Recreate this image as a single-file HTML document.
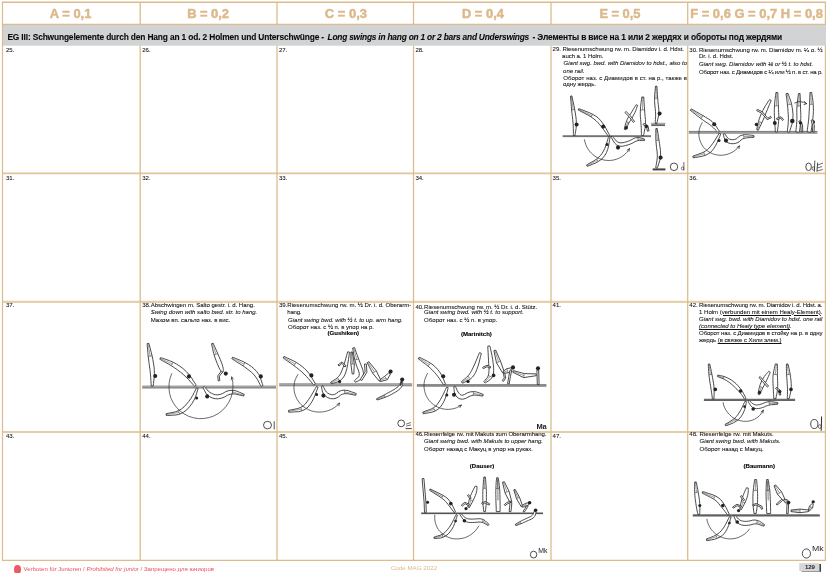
<!DOCTYPE html>
<html lang="de">
<head>
<meta charset="utf-8">
<title>Code MAG 2022 - EG III</title>
<style>
html,body{margin:0;padding:0;background:#fff;}
body{width:827px;height:573px;position:relative;overflow:hidden;font-family:"Liberation Sans",sans-serif;color:#1c1c1c;}
#grid,#figs{position:absolute;left:0;top:0;}
.t{position:absolute;white-space:nowrap;line-height:1;margin:0;padding:0;transform-origin:0 0;}
.h{font-weight:bold;color:#dcb98a;-webkit-text-stroke:0.5px #dcb98a;}
.g{font-weight:bold;color:#0c0c0c;-webkit-text-stroke:0.1px #0c0c0c;}
.gi{font-weight:bold;font-style:italic;color:#0c0c0c;-webkit-text-stroke:0.1px #0c0c0c;}
.r{color:#111;-webkit-text-stroke:0.07px #111;}
.i{font-style:italic;color:#111;-webkit-text-stroke:0.07px #111;}
.b{font-weight:bold;color:#000;-webkit-text-stroke:0.12px #000;}
.f{color:#e8505a;}
.c{color:#dcb98a;}
.p{font-weight:bold;color:#222;}
u{text-decoration-thickness:0.8px;text-underline-offset:0.5px;}
.dot{position:absolute;left:13.7px;top:565px;width:7.3px;height:8.6px;border-radius:50%;background:#ec5a66;}

</style>
</head>
<body>
<svg id="grid" width="827" height="573" viewBox="0 0 827 573">
<rect x="3" y="25" width="822" height="20.7" fill="#d1d3d4"/>
<line x1="1.9" y1="2.3" x2="826.0" y2="2.3" stroke="#dcbc8c" stroke-width="1.4"/>
<line x1="2.5" y1="24.4" x2="825.4" y2="24.4" stroke="#dcbc8c" stroke-width="1.2"/>
<line x1="2.5" y1="173.3" x2="825.4" y2="173.3" stroke="#dcbc8c" stroke-width="1.7" stroke-opacity="0.88"/>
<line x1="2.5" y1="301.9" x2="825.4" y2="301.9" stroke="#dcbc8c" stroke-width="2.1" stroke-opacity="0.71"/>
<line x1="2.5" y1="432.0" x2="825.4" y2="432.0" stroke="#dcbc8c" stroke-width="2.0" stroke-opacity="0.75"/>
<line x1="1.9" y1="560.3" x2="826.0" y2="560.3" stroke="#dcbc8c" stroke-width="1.2"/>
<line x1="2.5" y1="2.3" x2="2.5" y2="560.3" stroke="#dcbc8c" stroke-width="1.2"/>
<line x1="825.4" y1="2.3" x2="825.4" y2="560.3" stroke="#dcbc8c" stroke-width="1.2"/>
<line x1="140.2" y1="2.3" x2="140.2" y2="24.4" stroke="#dcbc8c" stroke-width="1.3"/>
<line x1="140.2" y1="45.5" x2="140.2" y2="560.3" stroke="#dcbc8c" stroke-width="1.3"/>
<line x1="277.0" y1="2.3" x2="277.0" y2="24.4" stroke="#dcbc8c" stroke-width="1.3"/>
<line x1="277.0" y1="45.5" x2="277.0" y2="560.3" stroke="#dcbc8c" stroke-width="1.3"/>
<line x1="413.5" y1="2.3" x2="413.5" y2="24.4" stroke="#dcbc8c" stroke-width="1.3"/>
<line x1="413.5" y1="45.5" x2="413.5" y2="560.3" stroke="#dcbc8c" stroke-width="1.3"/>
<line x1="551.0" y1="2.3" x2="551.0" y2="24.4" stroke="#dcbc8c" stroke-width="1.3"/>
<line x1="551.0" y1="45.5" x2="551.0" y2="560.3" stroke="#dcbc8c" stroke-width="1.3"/>
<line x1="687.7" y1="2.3" x2="687.7" y2="24.4" stroke="#dcbc8c" stroke-width="1.3"/>
<line x1="687.7" y1="45.5" x2="687.7" y2="560.3" stroke="#dcbc8c" stroke-width="1.3"/>
<rect x="824" y="25" width="2" height="20.7" fill="#d1d3d4"/>
<rect x="799.2" y="563.1" width="20.3" height="7.9" fill="#d6d7d8"/>
<rect x="819.5" y="564.0" width="1.4" height="7.5" fill="#26262a"/>
<rect x="801.6" y="571.0" width="19.3" height="0.5" fill="#333"/>
</svg>
<div class="dot"></div>
<svg id="figs" width="827" height="573" viewBox="0 0 827 573">
<g>
<line x1="562.7" y1="136.0" x2="651.0" y2="136.0" stroke="#6e6e6e" stroke-width="1.70"/>
<line x1="562.7" y1="136.7" x2="651.0" y2="136.7" stroke="#444" stroke-width="0.50"/>
<polygon points="570.5,96.1 570.6,97.1 570.7,99.1 571.0,102.2 571.3,106.2 571.6,110.0 572.0,113.5 572.4,116.7 572.7,119.7 573.0,122.6 573.2,125.4 573.3,128.3 573.4,131.1 573.4,133.3 573.4,134.7 573.4,135.4 575.0,135.6 575.1,134.8 575.3,133.4 575.6,131.3 576.1,128.4 576.3,125.4 576.3,122.4 576.2,119.3 575.8,116.3 575.3,113.0 574.7,109.5 574.0,105.8 573.1,101.8 572.5,98.9 572.1,96.9 571.9,95.9" fill="#fff" stroke="#2a2a2a" stroke-width="0.85" stroke-linejoin="round"/>
<line x1="571.2" y1="96.0" x2="573.2" y2="109.8" stroke="#2a2a2a" stroke-width="0.45"/>
<line x1="571.6" y1="110.0" x2="574.7" y2="109.5" stroke="#2a2a2a" stroke-width="0.5"/>
<circle cx="576.6" cy="124.5" r="2.03" fill="#222"/>
<polygon points="578.2,110.0 579.2,110.5 581.1,111.5 584.0,113.0 587.9,115.0 591.2,117.0 593.9,118.9 596.1,120.8 597.9,122.6 599.7,124.7 601.6,127.0 603.5,129.5 605.4,132.2 606.9,134.2 607.9,135.5 608.3,136.2 609.7,135.4 609.3,134.7 608.5,133.2 607.3,131.0 605.8,128.0 604.1,125.2 602.3,122.7 600.5,120.4 598.5,118.2 595.9,116.2 592.7,114.3 589.1,112.6 585.0,111.0 581.9,109.8 579.8,109.0 578.8,108.6" fill="#fff" stroke="#2a2a2a" stroke-width="0.85" stroke-linejoin="round"/>
<line x1="578.5" y1="109.3" x2="592.0" y2="115.7" stroke="#2a2a2a" stroke-width="0.45"/>
<line x1="591.2" y1="117.0" x2="592.7" y2="114.3" stroke="#2a2a2a" stroke-width="0.5"/>
<circle cx="603.2" cy="126.6" r="2.03" fill="#222"/>
<polygon points="608.7,136.4 608.4,137.3 607.9,139.1 607.1,141.7 606.0,145.2 604.8,148.3 603.5,151.0 602.1,153.3 600.6,155.3 598.8,157.2 596.6,159.0 594.1,160.7 591.1,162.4 588.8,163.6 587.3,164.5 586.6,164.9 587.2,166.3 588.0,166.0 589.7,165.4 592.1,164.4 595.4,163.1 598.3,161.5 600.9,159.7 603.2,157.6 605.0,155.2 606.5,152.5 607.7,149.4 608.6,146.0 609.2,142.3 609.6,139.5 610.0,137.7 610.1,136.8" fill="#fff" stroke="#2a2a2a" stroke-width="0.85" stroke-linejoin="round"/>
<line x1="586.9" y1="165.6" x2="597.5" y2="160.3" stroke="#2a2a2a" stroke-width="0.45"/>
<line x1="596.6" y1="159.0" x2="598.3" y2="161.5" stroke="#2a2a2a" stroke-width="0.5"/>
<circle cx="607.0" cy="144.5" r="1.50" fill="#222"/>
<polygon points="610.9,136.9 611.3,137.5 612.0,138.7 613.0,140.5 614.6,143.0 616.7,145.0 619.4,146.1 622.4,146.3 625.5,145.6 628.3,144.8 630.8,143.9 633.1,142.8 634.9,141.7 636.5,141.0 638.1,140.6 639.7,140.4 641.4,140.5 642.8,140.6 643.8,140.6 644.3,140.7 644.5,139.1 644.1,139.0 643.2,138.7 641.8,138.3 639.9,137.7 637.7,137.5 635.6,137.8 633.4,138.6 631.4,139.8 629.5,140.7 627.2,141.6 624.7,142.3 622.1,142.8 620.0,142.8 618.2,142.3 616.5,141.2 614.8,139.2 613.5,137.7 612.5,136.6 612.1,136.1" fill="#fff" stroke="#2a2a2a" stroke-width="0.85" stroke-linejoin="round"/>
<line x1="644.4" y1="139.9" x2="637.9" y2="139.0" stroke="#2a2a2a" stroke-width="0.45"/>
<line x1="638.1" y1="140.6" x2="637.7" y2="137.5" stroke="#2a2a2a" stroke-width="0.5"/>
<circle cx="618.0" cy="147.6" r="2.03" fill="#222"/>
<polyline points="584.4,139.7 585.0,142.2 585.8,144.6 586.8,147.0 588.1,149.2 589.6,151.2 591.3,153.1 593.1,154.8 595.1,156.3 597.3,157.6 599.6,158.7 601.9,159.5 604.3,160.1 606.8,160.4 609.3,160.5 611.7,160.3 614.1,159.9 616.5,159.2 618.8,158.3 620.9,157.2 623.0,155.8 624.9,154.3 626.6,152.6 628.1,150.7 629.4,148.7" fill="none" stroke="#2a2a2a" stroke-width="0.70" stroke-linecap="round" stroke-linejoin="round"/>
<polyline points="629.4,148.7 627.2,150.1" fill="none" stroke="#2a2a2a" stroke-width="0.70" stroke-linecap="round" stroke-linejoin="round"/>
<polyline points="629.4,148.7 629.1,151.3" fill="none" stroke="#2a2a2a" stroke-width="0.70" stroke-linecap="round" stroke-linejoin="round"/>
<polygon points="625.7,129.7 625.9,129.2 626.4,128.2 627.2,126.7 628.1,124.7 629.1,122.7 630.2,120.8 631.4,118.9 632.6,116.9 633.7,114.8 634.8,112.7 635.7,110.6 636.5,108.5 637.0,106.9 637.4,105.9 637.6,105.3 636.2,104.7 635.9,105.1 635.3,106.1 634.4,107.5 633.2,109.4 632.1,111.3 630.9,113.2 629.7,115.1 628.4,117.1 627.3,119.3 626.4,121.5 625.6,123.7 625.1,125.9 624.7,127.6 624.4,128.7 624.3,129.3" fill="#fff" stroke="#2a2a2a" stroke-width="0.85" stroke-linejoin="round"/>
<line x1="625.0" y1="129.5" x2="627.8" y2="122.1" stroke="#2a2a2a" stroke-width="0.45"/>
<line x1="629.1" y1="122.7" x2="626.4" y2="121.5" stroke="#2a2a2a" stroke-width="0.5"/>
<polygon points="624.9,112.6 628.9,116.5 633.4,122.5 634.6,121.5 630.1,115.5 626.1,111.4" fill="#fff" stroke="#2a2a2a" stroke-width="0.85" stroke-linejoin="round"/>
<circle cx="626.2" cy="127.8" r="1.80" fill="#222"/>
<polygon points="641.8,97.0 641.7,97.9 641.5,99.8 641.1,102.6 640.6,106.3 640.4,110.0 640.3,113.4 640.4,116.7 640.7,119.7 640.9,122.5 641.1,125.4 641.3,128.2 641.3,131.1 641.4,133.2 641.4,134.7 641.4,135.4 643.6,135.6 643.7,134.9 644.0,133.5 644.4,131.3 645.0,128.4 645.3,125.4 645.5,122.4 645.4,119.3 645.1,116.3 644.8,113.2 644.6,109.9 644.3,106.4 644.1,102.7 643.9,99.9 643.8,98.0 643.8,97.0" fill="#fff" stroke="#2a2a2a" stroke-width="0.85" stroke-linejoin="round"/>
<line x1="642.8" y1="97.0" x2="642.5" y2="109.9" stroke="#2a2a2a" stroke-width="0.45"/>
<line x1="640.4" y1="110.0" x2="644.6" y2="109.9" stroke="#2a2a2a" stroke-width="0.5"/>
<polygon points="643.1,124.7 646.5,126.4 647.4,131.2 649.0,130.8 647.9,125.6 643.9,123.3" fill="#fff" stroke="#2a2a2a" stroke-width="0.85" stroke-linejoin="round"/>
<circle cx="646.4" cy="126.4" r="1.65" fill="#222"/>
<polygon points="655.5,86.2 655.4,87.1 655.3,88.8 655.0,91.4 654.7,94.8 654.6,98.3 654.6,101.7 654.8,105.0 655.2,108.3 655.5,111.3 655.6,114.1 655.6,116.8 655.4,119.4 655.3,121.4 655.3,122.7 655.2,123.4 656.8,123.6 656.9,123.0 657.2,121.7 657.7,119.7 658.3,117.1 658.7,114.2 658.8,111.2 658.7,108.0 658.3,104.7 657.9,101.5 657.7,98.2 657.4,94.8 657.2,91.4 657.1,88.8 657.0,87.1 656.9,86.2" fill="#fff" stroke="#2a2a2a" stroke-width="0.85" stroke-linejoin="round"/>
<line x1="656.2" y1="86.2" x2="656.1" y2="98.2" stroke="#2a2a2a" stroke-width="0.45"/>
<line x1="654.6" y1="98.3" x2="657.7" y2="98.2" stroke="#2a2a2a" stroke-width="0.5"/>
<circle cx="659.6" cy="113.6" r="2.03" fill="#222"/>
<line x1="651.3" y1="125.0" x2="665.0" y2="125.0" stroke="#6a6a6a" stroke-width="1.60"/>
<line x1="651.3" y1="125.6" x2="665.0" y2="125.6" stroke="#444" stroke-width="0.60"/>
<polyline points="651.3,123.3 665.0,123.3" fill="none" stroke="#2a2a2a" stroke-width="0.50" stroke-linecap="round" stroke-linejoin="round"/>
<polygon points="655.8,128.6 655.8,129.4 655.8,131.1 655.8,133.6 655.8,137.0 655.9,140.5 656.2,144.0 656.5,147.5 657.0,150.9 657.3,154.1 657.3,157.2 657.0,160.2 656.5,163.2 656.1,165.5 655.9,167.0 655.7,167.8 657.3,168.2 657.5,167.5 658.0,166.0 658.7,163.8 659.7,160.8 660.4,157.5 660.6,154.1 660.5,150.6 660.0,147.0 659.5,143.6 659.0,140.2 658.5,136.8 658.0,133.5 657.6,131.0 657.3,129.3 657.2,128.4" fill="#fff" stroke="#2a2a2a" stroke-width="0.85" stroke-linejoin="round"/>
<line x1="656.5" y1="128.5" x2="657.4" y2="140.3" stroke="#2a2a2a" stroke-width="0.45"/>
<line x1="655.9" y1="140.5" x2="659.0" y2="140.2" stroke="#2a2a2a" stroke-width="0.5"/>
<circle cx="660.6" cy="157.6" r="2.03" fill="#222"/>
<line x1="652.7" y1="169.3" x2="665.4" y2="169.3" stroke="#444" stroke-width="1.80"/>
<line x1="652.7" y1="170.0" x2="665.4" y2="170.0" stroke="#444" stroke-width="0.60"/>
<ellipse cx="674.0" cy="166.8" rx="3.7" ry="3.8" fill="none" stroke="#222" stroke-width="0.80"/>
<polyline points="683.9,162.5 683.9,170.2" fill="none" stroke="#2a2a2a" stroke-width="0.70" stroke-linecap="round" stroke-linejoin="round"/>
<ellipse cx="682.6" cy="168.4" rx="1.2" ry="1.5" fill="none" stroke="#222" stroke-width="0.60"/>
</g>
<g>
<line x1="688.8" y1="132.3" x2="817.4" y2="132.3" stroke="#b0b0b0" stroke-width="1.90"/>
<line x1="688.8" y1="131.4" x2="817.4" y2="131.4" stroke="#4a4a4a" stroke-width="0.60"/>
<line x1="688.8" y1="133.2" x2="817.4" y2="133.2" stroke="#4a4a4a" stroke-width="0.60"/>
<polygon points="690.3,110.3 691.1,110.9 692.7,112.2 695.0,114.0 698.2,116.5 701.0,118.6 703.6,120.5 705.9,122.1 707.9,123.3 709.7,124.6 711.5,126.0 713.3,127.7 715.1,129.5 716.5,130.9 717.4,131.9 717.9,132.4 719.3,131.2 719.0,130.7 718.2,129.5 717.2,127.9 715.7,125.6 714.0,123.5 712.2,121.6 710.1,120.0 708.1,118.7 705.7,117.3 703.0,115.6 699.9,113.9 696.5,111.9 693.9,110.4 692.1,109.4 691.3,108.9" fill="#fff" stroke="#2a2a2a" stroke-width="0.85" stroke-linejoin="round"/>
<line x1="690.8" y1="109.6" x2="702.0" y2="117.1" stroke="#2a2a2a" stroke-width="0.45"/>
<line x1="701.0" y1="118.6" x2="703.0" y2="115.6" stroke="#2a2a2a" stroke-width="0.5"/>
<circle cx="714.2" cy="124.2" r="2.03" fill="#222"/>
<polygon points="719.2,133.2 718.8,134.0 717.8,135.6 716.3,138.0 714.4,141.1 712.5,143.8 710.8,146.1 709.2,148.0 707.7,149.4 705.9,150.8 703.7,152.1 701.0,153.3 697.7,154.4 695.3,155.3 693.6,155.8 692.8,156.1 693.2,157.9 694.1,157.7 695.8,157.4 698.4,157.0 701.9,156.3 705.1,155.4 707.9,154.1 710.3,152.5 712.2,150.7 713.9,148.4 715.6,145.7 717.1,142.6 718.6,139.1 719.7,136.6 720.4,134.8 720.8,134.0" fill="#fff" stroke="#2a2a2a" stroke-width="0.85" stroke-linejoin="round"/>
<line x1="693.0" y1="157.0" x2="704.4" y2="153.7" stroke="#2a2a2a" stroke-width="0.45"/>
<line x1="703.7" y1="152.1" x2="705.1" y2="155.4" stroke="#2a2a2a" stroke-width="0.5"/>
<circle cx="719.0" cy="140.5" r="1.50" fill="#222"/>
<polygon points="723.2,134.4 723.4,134.9 723.7,135.9 724.1,137.4 724.9,139.5 726.3,141.5 728.2,142.9 730.7,143.6 733.4,143.7 735.8,143.3 738.0,142.5 739.9,141.2 741.2,139.9 742.4,139.0 744.1,138.4 746.4,137.9 749.4,137.6 751.7,137.5 753.2,137.4 754.0,137.3 754.0,135.5 753.3,135.4 751.7,135.2 749.4,135.0 746.3,134.7 743.4,134.8 740.8,135.5 738.6,136.7 737.3,138.2 736.2,138.9 734.8,139.4 733.1,139.7 731.2,139.6 729.8,139.3 728.6,138.7 727.5,137.8 726.5,136.3 725.6,135.0 725.1,134.1 724.8,133.6" fill="#fff" stroke="#2a2a2a" stroke-width="0.85" stroke-linejoin="round"/>
<line x1="754.0" y1="136.4" x2="743.8" y2="136.6" stroke="#2a2a2a" stroke-width="0.45"/>
<line x1="744.1" y1="138.4" x2="743.4" y2="134.8" stroke="#2a2a2a" stroke-width="0.5"/>
<circle cx="726.0" cy="140.6" r="2.03" fill="#222"/>
<polyline points="702.3,122.7 701.0,124.9 700.0,127.2 699.3,129.7 698.9,132.3 698.9,134.9 699.2,137.5 699.8,140.1 700.8,142.6 702.0,145.0 703.6,147.3 705.5,149.3 707.7,151.1 710.1,152.6 712.7,153.8 715.4,154.6 718.2,155.1 721.2,155.3 724.1,155.0 727.0,154.4 729.8,153.4 732.5,152.1 735.0,150.4 737.3,148.4 739.4,146.0" fill="none" stroke="#2a2a2a" stroke-width="0.70" stroke-linecap="round" stroke-linejoin="round"/>
<polyline points="739.4,146.0 737.1,147.3" fill="none" stroke="#2a2a2a" stroke-width="0.70" stroke-linecap="round" stroke-linejoin="round"/>
<polyline points="739.4,146.0 739.0,148.6" fill="none" stroke="#2a2a2a" stroke-width="0.70" stroke-linecap="round" stroke-linejoin="round"/>
<polygon points="758.3,130.3 758.6,129.7 759.1,128.6 759.8,127.0 760.9,124.9 761.9,122.6 763.0,120.2 764.1,117.6 765.2,114.9 766.3,112.2 767.4,109.6 768.4,107.0 769.5,104.4 770.4,102.4 770.9,101.1 771.2,100.4 769.6,99.6 769.2,100.2 768.4,101.3 767.2,103.1 765.6,105.5 764.1,108.0 762.7,110.6 761.5,113.3 760.3,116.1 759.3,118.8 758.5,121.4 757.9,123.9 757.4,126.2 757.1,128.0 756.8,129.1 756.7,129.7" fill="#fff" stroke="#2a2a2a" stroke-width="0.85" stroke-linejoin="round"/>
<line x1="757.5" y1="130.0" x2="760.2" y2="122.0" stroke="#2a2a2a" stroke-width="0.45"/>
<line x1="761.9" y1="122.6" x2="758.5" y2="121.4" stroke="#2a2a2a" stroke-width="0.5"/>
<polygon points="756.7,110.7 761.5,113.1 767.2,119.7 771.4,117.7 770.6,116.3 767.8,118.3 762.5,111.9 757.3,109.3" fill="#fff" stroke="#2a2a2a" stroke-width="0.85" stroke-linejoin="round"/>
<circle cx="756.5" cy="124.5" r="1.80" fill="#222"/>
<polygon points="775.9,92.5 775.8,93.4 775.6,95.4 775.2,98.3 774.8,102.1 774.5,105.8 774.3,109.3 774.3,112.6 774.4,115.6 774.6,118.5 774.7,121.5 774.9,124.4 775.1,127.4 775.2,129.7 775.3,131.2 775.3,132.0 777.3,132.0 777.4,131.3 777.6,129.8 777.9,127.6 778.3,124.6 778.6,121.5 778.8,118.5 778.8,115.4 778.7,112.4 778.5,109.3 778.4,105.9 778.2,102.2 778.0,98.4 777.9,95.4 777.8,93.5 777.7,92.5" fill="#fff" stroke="#2a2a2a" stroke-width="0.85" stroke-linejoin="round"/>
<line x1="776.8" y1="92.5" x2="776.4" y2="105.8" stroke="#2a2a2a" stroke-width="0.45"/>
<line x1="774.5" y1="105.8" x2="778.4" y2="105.9" stroke="#2a2a2a" stroke-width="0.5"/>
<polygon points="777.1,119.7 780.9,118.2 782.4,120.5 783.6,119.5 781.1,116.8 776.5,118.3" fill="#fff" stroke="#2a2a2a" stroke-width="0.85" stroke-linejoin="round"/>
<circle cx="774.8" cy="123.0" r="1.95" fill="#222"/>
<polygon points="786.0,93.7 786.1,94.5 786.4,96.1 786.7,98.5 787.1,101.7 787.4,104.9 787.8,108.1 788.0,111.5 788.3,114.8 788.4,118.1 788.3,121.2 788.2,124.2 787.8,127.2 787.5,129.5 787.4,131.0 787.3,131.8 789.3,132.2 789.6,131.5 790.1,130.0 790.8,127.8 791.8,124.8 792.5,121.6 792.9,118.2 793.0,114.7 792.7,111.0 792.2,107.6 791.6,104.2 790.7,100.9 789.6,97.8 788.8,95.6 788.2,94.0 788.0,93.3" fill="#fff" stroke="#2a2a2a" stroke-width="0.85" stroke-linejoin="round"/>
<line x1="787.0" y1="93.5" x2="789.5" y2="104.5" stroke="#2a2a2a" stroke-width="0.45"/>
<line x1="787.4" y1="104.9" x2="791.6" y2="104.2" stroke="#2a2a2a" stroke-width="0.5"/>
<circle cx="792.3" cy="121.0" r="2.25" fill="#222"/>
<polygon points="798.5,93.5 798.4,94.4 798.1,96.2 797.8,98.9 797.3,102.5 797.0,106.0 796.8,109.3 796.8,112.5 796.9,115.5 796.9,118.5 796.8,121.4 796.6,124.3 796.3,127.3 796.0,129.5 795.9,131.0 795.8,131.8 799.4,132.2 799.5,131.5 799.7,130.0 800.0,127.7 800.4,124.7 800.6,121.6 800.8,118.5 800.8,115.5 800.7,112.5 800.6,109.3 800.5,106.1 800.4,102.6 800.3,99.0 800.2,96.3 800.1,94.4 800.1,93.5" fill="#fff" stroke="#2a2a2a" stroke-width="0.85" stroke-linejoin="round"/>
<line x1="799.3" y1="93.5" x2="798.8" y2="106.0" stroke="#2a2a2a" stroke-width="0.45"/>
<line x1="797.0" y1="106.0" x2="800.5" y2="106.1" stroke="#2a2a2a" stroke-width="0.5"/>
<polygon points="798.8,121.4 800.9,125.2 801.2,132.0 802.8,132.0 802.5,124.8 800.2,120.6" fill="#fff" stroke="#2a2a2a" stroke-width="0.85" stroke-linejoin="round"/>
<circle cx="800.6" cy="123.0" r="1.65" fill="#222"/>
<circle cx="813.4" cy="122.0" r="1.65" fill="#222"/>
<polyline points="794.8,103.0 799.0,101.6 803.5,102.2 806.5,103.6" fill="none" stroke="#2a2a2a" stroke-width="0.80" stroke-linecap="round" stroke-linejoin="round"/>
<polyline points="806.5,103.6 804.3,101.6" fill="none" stroke="#2a2a2a" stroke-width="0.80" stroke-linecap="round" stroke-linejoin="round"/>
<polyline points="806.5,103.6 804.0,104.6" fill="none" stroke="#2a2a2a" stroke-width="0.80" stroke-linecap="round" stroke-linejoin="round"/>
<polygon points="809.9,92.6 809.9,93.4 809.9,95.1 809.8,97.6 809.7,101.0 809.6,104.4 809.4,107.8 809.2,111.2 809.0,114.6 808.8,117.9 808.5,121.1 808.1,124.2 807.7,127.2 807.4,129.5 807.2,131.0 807.1,131.7 810.9,132.3 811.0,131.5 811.3,130.0 811.6,127.8 812.1,124.8 812.5,121.6 812.9,118.3 813.2,114.9 813.4,111.3 813.4,107.8 813.2,104.3 812.9,100.9 812.4,97.5 812.0,95.0 811.8,93.3 811.7,92.4" fill="#fff" stroke="#2a2a2a" stroke-width="0.85" stroke-linejoin="round"/>
<line x1="810.8" y1="92.5" x2="811.4" y2="104.3" stroke="#2a2a2a" stroke-width="0.45"/>
<line x1="809.6" y1="104.4" x2="813.2" y2="104.3" stroke="#2a2a2a" stroke-width="0.5"/>
<polygon points="811.2,120.2 812.8,126.1 812.4,131.9 814.0,132.1 814.4,125.9 812.8,119.8" fill="#fff" stroke="#2a2a2a" stroke-width="0.85" stroke-linejoin="round"/>
<ellipse cx="808.6" cy="166.8" rx="2.8" ry="3.8" fill="none" stroke="#222" stroke-width="0.80"/>
<polyline points="814.8,161.0 814.4,171.4" fill="none" stroke="#2a2a2a" stroke-width="0.80" stroke-linecap="round" stroke-linejoin="round"/>
<ellipse cx="813.3" cy="168.4" rx="1.2" ry="1.8" fill="none" stroke="#222" stroke-width="0.60"/>
<polyline points="817.6,163.0 817.0,171.0" fill="none" stroke="#2a2a2a" stroke-width="0.80" stroke-linecap="round" stroke-linejoin="round"/>
<polyline points="817.4,165.2 822.6,163.2" fill="none" stroke="#2a2a2a" stroke-width="0.70" stroke-linecap="round" stroke-linejoin="round"/>
<polyline points="817.2,168.0 821.8,166.6" fill="none" stroke="#2a2a2a" stroke-width="0.70" stroke-linecap="round" stroke-linejoin="round"/>
<polyline points="817.0,171.0 822.4,169.6" fill="none" stroke="#2a2a2a" stroke-width="0.70" stroke-linecap="round" stroke-linejoin="round"/>
</g>
<g>
<line x1="142.2" y1="386.8" x2="276.0" y2="386.8" stroke="#a4a4a4" stroke-width="2.80"/>
<line x1="142.2" y1="388.0" x2="276.0" y2="388.0" stroke="#444" stroke-width="0.50"/>
<polygon points="147.1,343.7 147.2,344.6 147.3,346.4 147.6,349.2 147.9,352.8 148.2,356.5 148.7,360.0 149.1,363.6 149.6,367.0 150.1,370.4 150.4,373.8 150.7,377.2 150.9,380.7 151.1,383.3 151.2,385.1 151.2,386.0 153.2,386.0 153.3,385.2 153.5,383.4 153.8,380.8 154.2,377.3 154.4,373.7 154.3,370.1 154.0,366.5 153.4,362.9 152.8,359.4 152.1,355.8 151.2,352.3 150.3,348.7 149.6,346.0 149.1,344.2 148.9,343.3" fill="#fff" stroke="#2a2a2a" stroke-width="0.85" stroke-linejoin="round"/>
<line x1="148.0" y1="343.5" x2="150.2" y2="356.2" stroke="#2a2a2a" stroke-width="0.45"/>
<line x1="148.2" y1="356.5" x2="152.1" y2="355.8" stroke="#2a2a2a" stroke-width="0.5"/>
<circle cx="155.2" cy="376.0" r="2.03" fill="#222"/>
<polygon points="159.8,359.2 160.7,359.7 162.3,360.6 164.8,362.0 168.1,363.8 171.3,365.7 174.4,367.7 177.4,369.8 180.4,372.1 183.3,374.5 186.0,377.0 188.5,379.5 190.9,382.2 192.8,384.3 194.0,385.7 194.6,386.4 196.2,385.2 195.7,384.4 194.7,382.9 193.2,380.5 191.2,377.3 188.8,374.3 186.1,371.4 183.2,368.7 180.0,366.3 176.6,364.1 173.1,362.2 169.6,360.7 165.9,359.4 163.3,358.5 161.5,357.9 160.6,357.6" fill="#fff" stroke="#2a2a2a" stroke-width="0.85" stroke-linejoin="round"/>
<line x1="160.2" y1="358.4" x2="172.2" y2="364.0" stroke="#2a2a2a" stroke-width="0.45"/>
<line x1="171.3" y1="365.7" x2="173.1" y2="362.2" stroke="#2a2a2a" stroke-width="0.5"/>
<circle cx="189.0" cy="376.4" r="2.03" fill="#222"/>
<polygon points="196.5,387.9 196.1,388.7 195.4,390.2 194.2,392.5 192.7,395.5 190.9,398.4 188.9,401.3 186.5,404.1 184.0,406.9 181.3,409.1 178.4,410.7 175.2,411.9 171.7,412.6 168.9,413.2 167.0,413.5 166.1,413.7 166.3,415.5 167.3,415.5 169.1,415.4 172.0,415.2 175.9,415.0 179.8,414.1 183.4,412.3 186.7,409.9 189.6,406.7 192.0,403.5 194.0,400.2 195.5,396.9 196.6,393.5 197.3,391.0 197.8,389.3 198.1,388.5" fill="#fff" stroke="#2a2a2a" stroke-width="0.85" stroke-linejoin="round"/>
<line x1="166.2" y1="414.6" x2="179.1" y2="412.4" stroke="#2a2a2a" stroke-width="0.45"/>
<line x1="178.4" y1="410.7" x2="179.8" y2="414.1" stroke="#2a2a2a" stroke-width="0.5"/>
<circle cx="196.6" cy="398.0" r="1.50" fill="#222"/>
<polygon points="202.9,387.5 203.2,388.0 203.7,389.1 204.6,390.7 205.8,393.0 207.5,395.1 209.6,396.7 212.2,397.9 215.1,398.7 218.3,398.8 221.4,398.2 224.6,397.0 227.5,395.2 230.0,394.3 232.7,393.9 235.5,394.0 238.7,394.8 241.2,395.4 242.9,395.8 243.7,396.1 244.3,394.3 243.5,394.0 241.9,393.3 239.5,392.3 236.2,390.9 232.7,390.3 229.2,390.5 225.8,391.6 222.8,393.4 220.3,394.4 217.9,394.8 215.7,394.8 213.5,394.2 211.5,393.3 209.8,392.3 208.2,391.0 206.7,389.3 205.5,387.9 204.7,387.0 204.3,386.5" fill="#fff" stroke="#2a2a2a" stroke-width="0.85" stroke-linejoin="round"/>
<line x1="244.0" y1="395.2" x2="232.7" y2="392.1" stroke="#2a2a2a" stroke-width="0.45"/>
<line x1="232.7" y1="393.9" x2="232.7" y2="390.3" stroke="#2a2a2a" stroke-width="0.5"/>
<circle cx="207.2" cy="396.4" r="2.03" fill="#222"/>
<polyline points="171.7,373.7 170.0,378.5 169.1,383.5 169.0,388.6 169.6,393.7 171.1,398.5 173.4,403.1 176.4,407.3 180.0,410.9 184.1,413.9 188.7,416.3 193.6,417.8 198.6,418.6 203.8,418.5 208.9,417.6 213.7,416.0 218.3,413.5 222.4,410.4 225.9,406.6 228.8,402.3 231.0,397.6 232.4,392.6 233.0,387.4 232.8,382.2 231.7,377.1" fill="none" stroke="#2a2a2a" stroke-width="0.70" stroke-linecap="round" stroke-linejoin="round"/>
<polyline points="231.7,377.1 231.3,379.7" fill="none" stroke="#2a2a2a" stroke-width="0.70" stroke-linecap="round" stroke-linejoin="round"/>
<polyline points="231.7,377.1 233.4,379.0" fill="none" stroke="#2a2a2a" stroke-width="0.70" stroke-linecap="round" stroke-linejoin="round"/>
<polygon points="211.4,343.8 211.6,344.6 212.0,346.2 212.6,348.6 213.3,351.9 214.2,355.0 215.1,358.0 216.2,360.9 217.3,363.7 218.3,366.0 219.1,367.9 219.9,369.4 220.5,370.5 221.0,371.4 221.3,372.0 221.5,372.3 223.3,371.7 223.3,371.4 223.3,370.7 223.3,369.7 223.2,368.4 222.8,366.6 222.2,364.5 221.3,362.1 220.2,359.3 219.0,356.5 217.8,353.7 216.5,350.8 215.2,347.7 214.2,345.5 213.5,344.0 213.2,343.2" fill="#fff" stroke="#2a2a2a" stroke-width="0.85" stroke-linejoin="round"/>
<line x1="212.3" y1="343.5" x2="216.0" y2="354.3" stroke="#2a2a2a" stroke-width="0.45"/>
<line x1="214.2" y1="355.0" x2="217.8" y2="353.7" stroke="#2a2a2a" stroke-width="0.5"/>
<polygon points="221.4,371.0 217.8,375.8 218.2,380.9 219.8,380.7 219.4,376.2 222.6,372.0" fill="#fff" stroke="#2a2a2a" stroke-width="0.85" stroke-linejoin="round"/>
<circle cx="225.8" cy="373.6" r="2.03" fill="#222"/>
<polygon points="231.8,358.8 232.6,359.3 234.3,360.3 236.7,361.9 240.0,363.9 243.1,365.9 246.0,368.0 248.8,370.1 251.4,372.2 253.7,374.4 255.6,376.8 257.3,379.3 258.8,382.1 259.9,384.2 260.7,385.7 261.1,386.4 262.9,385.6 262.7,384.8 262.2,383.3 261.4,380.9 260.4,377.7 258.9,374.6 256.8,371.7 254.3,369.0 251.5,366.6 248.4,364.5 245.1,362.6 241.6,360.9 238.0,359.4 235.3,358.3 233.5,357.5 232.6,357.2" fill="#fff" stroke="#2a2a2a" stroke-width="0.85" stroke-linejoin="round"/>
<line x1="232.2" y1="358.0" x2="244.1" y2="364.2" stroke="#2a2a2a" stroke-width="0.45"/>
<line x1="243.1" y1="365.9" x2="245.1" y2="362.6" stroke="#2a2a2a" stroke-width="0.5"/>
<circle cx="260.8" cy="376.4" r="2.03" fill="#222"/>
<ellipse cx="267.5" cy="425.1" rx="4.0" ry="3.8" fill="none" stroke="#222" stroke-width="0.80"/>
<polyline points="274.2,421.6 274.2,429.0" fill="none" stroke="#2a2a2a" stroke-width="0.80" stroke-linecap="round" stroke-linejoin="round"/>
</g>
<g>
<line x1="279.2" y1="384.9" x2="412.1" y2="384.9" stroke="#b4b4b4" stroke-width="2.10"/>
<line x1="279.2" y1="383.8" x2="412.1" y2="383.8" stroke="#555" stroke-width="0.60"/>
<line x1="279.2" y1="385.9" x2="412.1" y2="385.9" stroke="#555" stroke-width="0.60"/>
<polygon points="283.1,358.0 283.9,358.5 285.5,359.7 287.9,361.3 291.1,363.5 294.0,365.7 296.8,367.8 299.4,369.9 301.8,371.9 304.1,374.1 306.3,376.3 308.5,378.7 310.6,381.2 312.2,383.2 313.3,384.5 313.8,385.2 315.4,384.0 315.0,383.3 314.2,381.8 312.9,379.6 311.2,376.6 309.3,373.8 307.1,371.1 304.7,368.7 302.1,366.5 299.3,364.4 296.2,362.4 292.9,360.6 289.3,358.9 286.7,357.7 284.9,356.8 284.1,356.4" fill="#fff" stroke="#2a2a2a" stroke-width="0.85" stroke-linejoin="round"/>
<line x1="283.6" y1="357.2" x2="295.1" y2="364.1" stroke="#2a2a2a" stroke-width="0.45"/>
<line x1="294.0" y1="365.7" x2="296.2" y2="362.4" stroke="#2a2a2a" stroke-width="0.5"/>
<circle cx="311.4" cy="375.4" r="2.03" fill="#222"/>
<polygon points="316.5,386.4 316.1,387.2 315.2,388.7 313.9,390.9 312.2,393.9 310.5,396.7 308.7,399.4 306.9,401.9 305.2,404.2 303.2,406.0 300.7,407.4 297.8,408.5 294.1,409.3 291.3,409.8 289.4,410.2 288.5,410.4 288.7,412.2 289.7,412.2 291.6,412.1 294.5,411.9 298.4,411.7 302.1,410.8 305.4,409.2 308.1,407.0 310.2,404.3 312.0,401.5 313.6,398.5 315.0,395.3 316.2,392.0 317.2,389.6 317.8,388.0 318.1,387.2" fill="#fff" stroke="#2a2a2a" stroke-width="0.85" stroke-linejoin="round"/>
<line x1="288.6" y1="411.3" x2="301.4" y2="409.1" stroke="#2a2a2a" stroke-width="0.45"/>
<line x1="300.7" y1="407.4" x2="302.1" y2="410.8" stroke="#2a2a2a" stroke-width="0.5"/>
<circle cx="316.6" cy="394.4" r="1.50" fill="#222"/>
<polygon points="321.4,386.3 321.5,386.8 321.7,387.9 322.0,389.6 322.5,392.0 323.7,394.3 325.4,396.2 327.7,397.6 330.4,398.6 333.2,398.8 336.0,398.2 338.6,396.8 340.6,395.1 342.5,394.2 344.7,393.7 347.4,393.7 350.7,394.3 353.2,394.8 354.9,395.1 355.8,395.3 356.2,393.5 355.4,393.2 353.8,392.6 351.4,391.8 348.0,390.6 344.6,390.1 341.4,390.5 338.5,391.7 336.3,393.5 334.6,394.4 332.9,394.8 331.2,394.6 329.3,394.0 327.7,393.1 326.5,392.1 325.4,390.7 324.5,388.8 323.7,387.3 323.2,386.3 323.0,385.7" fill="#fff" stroke="#2a2a2a" stroke-width="0.85" stroke-linejoin="round"/>
<line x1="356.0" y1="394.4" x2="344.7" y2="391.9" stroke="#2a2a2a" stroke-width="0.45"/>
<line x1="344.7" y1="393.7" x2="344.6" y2="390.1" stroke="#2a2a2a" stroke-width="0.5"/>
<circle cx="323.4" cy="395.6" r="2.03" fill="#222"/>
<polyline points="297.9,374.6 296.5,377.0 295.3,379.6 294.5,382.3 294.1,385.1 293.9,388.0 294.2,391.0 294.8,393.9 295.8,396.7 297.1,399.4 298.8,402.0 300.8,404.3 303.1,406.4 305.7,408.2 308.5,409.7 311.5,410.9 314.7,411.7 318.0,412.1 321.3,412.0 324.6,411.6 327.9,410.7 331.1,409.5 334.1,407.8 336.9,405.7 339.4,403.3" fill="none" stroke="#2a2a2a" stroke-width="0.70" stroke-linecap="round" stroke-linejoin="round"/>
<polyline points="339.4,403.3 337.1,404.4" fill="none" stroke="#2a2a2a" stroke-width="0.70" stroke-linecap="round" stroke-linejoin="round"/>
<polyline points="339.4,403.3 338.9,405.9" fill="none" stroke="#2a2a2a" stroke-width="0.70" stroke-linecap="round" stroke-linejoin="round"/>
<polygon points="331.4,383.8 332.0,383.7 333.2,383.3 334.9,382.8 337.4,382.0 339.8,380.8 341.8,379.2 343.5,377.2 344.8,374.9 345.9,372.0 346.9,368.5 347.7,364.3 348.5,359.4 349.0,355.8 349.4,353.4 349.6,352.2 347.6,351.8 347.3,353.0 346.7,355.3 345.7,358.8 344.4,363.5 343.1,367.4 341.9,370.6 340.8,373.1 339.9,374.8 338.8,376.3 337.4,377.7 335.8,379.0 333.8,380.2 332.2,381.2 331.2,381.8 330.6,382.2" fill="#fff" stroke="#2a2a2a" stroke-width="0.85" stroke-linejoin="round"/>
<line x1="331.0" y1="383.0" x2="338.6" y2="379.2" stroke="#2a2a2a" stroke-width="0.45"/>
<line x1="339.8" y1="380.8" x2="337.4" y2="377.7" stroke="#2a2a2a" stroke-width="0.5"/>
<polygon points="339.0,366.1 341.9,363.3 344.9,367.0 346.1,366.0 342.1,361.9 338.0,364.9" fill="#fff" stroke="#2a2a2a" stroke-width="0.85" stroke-linejoin="round"/>
<circle cx="339.6" cy="381.6" r="1.65" fill="#222"/>
<polygon points="352.7,348.0 352.8,348.9 353.1,350.6 353.5,353.1 354.1,356.5 354.9,360.0 355.9,363.7 357.2,367.4 358.7,371.0 359.3,373.7 359.2,375.5 358.7,376.9 357.1,378.2 355.7,379.5 354.7,380.3 354.3,380.7 355.3,382.3 355.9,382.0 357.0,381.5 358.7,380.6 361.2,379.3 363.0,376.7 363.5,373.4 362.8,369.7 361.3,365.8 359.9,362.3 358.6,358.9 357.4,355.6 356.2,352.4 355.4,350.0 354.8,348.4 354.5,347.6" fill="#fff" stroke="#2a2a2a" stroke-width="0.85" stroke-linejoin="round"/>
<line x1="353.6" y1="347.8" x2="356.7" y2="359.5" stroke="#2a2a2a" stroke-width="0.45"/>
<line x1="354.9" y1="360.0" x2="358.6" y2="358.9" stroke="#2a2a2a" stroke-width="0.5"/>
<polygon points="350.9,352.1 350.9,364.1 352.2,374.0 353.8,374.0 354.3,363.9 352.3,351.9" fill="#fff" stroke="#2a2a2a" stroke-width="0.85" stroke-linejoin="round"/>
<line x1="351.6" y1="352.0" x2="352.6" y2="364.0" stroke="#2a2a2a" stroke-width="0.45"/>
<line x1="350.9" y1="364.1" x2="354.3" y2="363.9" stroke="#2a2a2a" stroke-width="0.5"/>
<polygon points="367.2,362.7 372.7,373.2 379.2,381.1 380.8,380.1 376.3,370.8 368.8,361.7" fill="#fff" stroke="#2a2a2a" stroke-width="0.85" stroke-linejoin="round"/>
<line x1="368.0" y1="362.2" x2="374.5" y2="372.0" stroke="#2a2a2a" stroke-width="0.45"/>
<line x1="372.7" y1="373.2" x2="376.3" y2="370.8" stroke="#2a2a2a" stroke-width="0.5"/>
<polygon points="364.5,364.1 365.1,371.8 360.2,379.5 361.8,380.5 366.9,372.2 366.3,363.9" fill="#fff" stroke="#2a2a2a" stroke-width="0.85" stroke-linejoin="round"/>
<polygon points="380.4,381.6 387.3,379.7 390.4,374.0 388.8,372.8 384.7,376.3 379.6,380.0" fill="#fff" stroke="#2a2a2a" stroke-width="0.85" stroke-linejoin="round"/>
<line x1="380.0" y1="380.8" x2="386.0" y2="378.0" stroke="#2a2a2a" stroke-width="0.45"/>
<line x1="387.3" y1="379.7" x2="384.7" y2="376.3" stroke="#2a2a2a" stroke-width="0.5"/>
<circle cx="390.6" cy="371.6" r="2.03" fill="#222"/>
<polygon points="400.8,381.7 400.7,382.0 400.5,382.6 400.2,383.6 399.8,384.6 399.2,385.6 398.3,386.5 397.1,387.5 395.6,388.5 393.9,389.6 392.2,390.6 390.3,391.7 388.3,392.7 386.3,393.8 384.3,394.9 382.1,396.0 379.9,397.1 378.2,397.9 377.1,398.5 376.5,398.8 377.1,400.0 377.7,399.8 378.8,399.5 380.6,398.9 383.0,398.1 385.3,397.2 387.5,396.3 389.7,395.3 391.7,394.3 393.6,393.2 395.5,392.1 397.2,391.0 398.9,389.8 400.3,388.5 401.4,387.1 402.1,385.6 402.4,384.2 402.6,383.2 402.7,382.6 402.8,382.3" fill="#fff" stroke="#2a2a2a" stroke-width="0.85" stroke-linejoin="round"/>
<line x1="376.8" y1="399.4" x2="384.8" y2="396.1" stroke="#2a2a2a" stroke-width="0.45"/>
<line x1="384.3" y1="394.9" x2="385.3" y2="397.2" stroke="#2a2a2a" stroke-width="0.5"/>
<circle cx="402.2" cy="379.6" r="2.03" fill="#222"/>
<polyline points="401.6,381.0 400.6,385.0" fill="none" stroke="#2a2a2a" stroke-width="1.40" stroke-linecap="round" stroke-linejoin="round"/>
<ellipse cx="401.2" cy="423.4" rx="3.4" ry="3.4" fill="none" stroke="#222" stroke-width="0.80"/>
<polyline points="406.6,424.0 410.6,422.6" fill="none" stroke="#2a2a2a" stroke-width="0.70" stroke-linecap="round" stroke-linejoin="round"/>
<polyline points="406.6,426.0 410.6,425.0" fill="none" stroke="#2a2a2a" stroke-width="0.70" stroke-linecap="round" stroke-linejoin="round"/>
<polyline points="406.0,428.6 411.4,428.6" fill="none" stroke="#2a2a2a" stroke-width="0.90" stroke-linecap="round" stroke-linejoin="round"/>
</g>
<g>
<line x1="416.9" y1="385.3" x2="546.4" y2="385.3" stroke="#8c8c8c" stroke-width="2.40"/>
<line x1="416.9" y1="386.3" x2="546.4" y2="386.3" stroke="#666" stroke-width="0.50"/>
<polygon points="418.3,358.8 419.0,359.3 420.5,360.4 422.6,362.0 425.5,364.1 428.1,366.2 430.4,368.2 432.5,370.2 434.4,372.3 436.2,374.3 437.9,376.5 439.6,378.8 441.2,381.3 442.5,383.2 443.3,384.4 443.7,385.1 445.5,384.1 445.2,383.4 444.6,382.0 443.8,380.0 442.6,377.1 441.2,374.4 439.5,371.8 437.6,369.4 435.5,367.1 433.1,365.0 430.4,363.1 427.4,361.3 424.1,359.6 421.7,358.4 420.1,357.6 419.3,357.2" fill="#fff" stroke="#2a2a2a" stroke-width="0.85" stroke-linejoin="round"/>
<line x1="418.8" y1="358.0" x2="429.2" y2="364.6" stroke="#2a2a2a" stroke-width="0.45"/>
<line x1="428.1" y1="366.2" x2="430.4" y2="363.1" stroke="#2a2a2a" stroke-width="0.5"/>
<circle cx="443.2" cy="376.2" r="2.03" fill="#222"/>
<polygon points="446.6,387.1 446.3,387.8 445.6,389.3 444.6,391.4 443.3,394.3 441.9,396.9 440.5,399.5 438.9,402.0 437.4,404.3 435.6,406.2 433.4,407.8 430.9,409.2 427.7,410.3 425.2,411.2 423.6,411.7 422.8,412.0 423.2,413.8 424.1,413.6 425.8,413.3 428.4,412.9 431.9,412.2 435.2,411.0 438.1,409.2 440.5,406.9 442.4,404.2 443.9,401.4 445.2,398.5 446.2,395.4 447.0,392.3 447.6,390.0 448.0,388.4 448.2,387.7" fill="#fff" stroke="#2a2a2a" stroke-width="0.85" stroke-linejoin="round"/>
<line x1="423.0" y1="412.9" x2="434.3" y2="409.4" stroke="#2a2a2a" stroke-width="0.45"/>
<line x1="433.4" y1="407.8" x2="435.2" y2="411.0" stroke="#2a2a2a" stroke-width="0.5"/>
<circle cx="446.8" cy="395.0" r="1.50" fill="#222"/>
<polygon points="453.8,386.8 453.8,387.3 453.9,388.3 454.1,389.7 454.3,391.7 454.9,393.7 455.8,395.5 457.1,397.1 458.9,398.5 461.3,399.2 463.8,399.0 466.5,398.0 469.0,396.5 471.2,395.7 473.4,395.2 475.8,395.1 478.5,395.5 480.7,395.8 482.1,396.0 482.8,396.1 483.2,394.3 482.5,394.1 481.2,393.6 479.2,392.9 476.3,391.9 473.3,391.6 470.2,391.9 467.3,392.9 464.7,394.4 462.9,395.1 461.6,395.2 460.8,395.0 459.9,394.2 458.9,393.2 458.1,392.1 457.3,390.7 456.6,389.1 456.0,387.7 455.6,386.8 455.4,386.4" fill="#fff" stroke="#2a2a2a" stroke-width="0.85" stroke-linejoin="round"/>
<line x1="483.0" y1="395.2" x2="473.3" y2="393.4" stroke="#2a2a2a" stroke-width="0.45"/>
<line x1="473.4" y1="395.2" x2="473.3" y2="391.6" stroke="#2a2a2a" stroke-width="0.5"/>
<circle cx="454.0" cy="394.8" r="2.03" fill="#222"/>
<polyline points="427.5,373.5 426.3,375.8 425.3,378.2 424.5,380.7 424.1,383.4 424.0,386.0 424.2,388.7 424.7,391.3 425.4,393.8 426.5,396.3 427.8,398.6 429.4,400.8 431.2,402.7 433.3,404.5 435.5,406.0 437.9,407.2 440.4,408.2 443.0,408.9 445.7,409.3 448.4,409.4 451.2,409.1 453.8,408.6 456.4,407.8 458.9,406.6 461.3,405.2" fill="none" stroke="#2a2a2a" stroke-width="0.70" stroke-linecap="round" stroke-linejoin="round"/>
<polyline points="461.3,405.2 458.7,405.6" fill="none" stroke="#2a2a2a" stroke-width="0.70" stroke-linecap="round" stroke-linejoin="round"/>
<polyline points="461.3,405.2 460.0,407.5" fill="none" stroke="#2a2a2a" stroke-width="0.70" stroke-linecap="round" stroke-linejoin="round"/>
<polygon points="462.5,383.2 463.1,382.9 464.2,382.4 465.9,381.6 468.3,380.4 470.6,378.9 472.5,377.0 474.2,374.8 475.6,372.4 476.8,369.6 477.9,366.5 479.0,362.9 479.9,359.1 480.6,356.2 481.1,354.3 481.3,353.3 479.5,352.7 479.1,353.6 478.3,355.4 477.2,358.2 475.7,361.8 474.3,365.0 472.9,367.9 471.7,370.4 470.5,372.5 469.3,374.3 467.9,376.0 466.3,377.6 464.4,379.2 463.0,380.4 462.0,381.2 461.5,381.6" fill="#fff" stroke="#2a2a2a" stroke-width="0.85" stroke-linejoin="round"/>
<line x1="462.0" y1="382.4" x2="469.2" y2="377.5" stroke="#2a2a2a" stroke-width="0.45"/>
<line x1="470.6" y1="378.9" x2="467.9" y2="376.0" stroke="#2a2a2a" stroke-width="0.5"/>
<circle cx="468.0" cy="381.4" r="1.65" fill="#222"/>
<polygon points="485.3,383.0 485.8,382.7 486.7,382.0 488.2,381.1 490.4,379.5 492.2,377.2 493.3,374.2 493.7,370.8 493.6,367.1 493.2,363.4 492.7,359.7 492.0,355.8 491.2,351.8 490.5,348.8 490.1,346.8 489.8,345.9 487.8,346.1 487.8,347.2 487.9,349.2 488.1,352.2 488.3,356.2 488.5,360.1 488.7,363.8 488.9,367.4 489.0,370.7 488.8,373.3 488.3,375.4 487.6,377.2 486.2,378.8 485.1,380.2 484.3,381.1 483.9,381.6" fill="#fff" stroke="#2a2a2a" stroke-width="0.85" stroke-linejoin="round"/>
<line x1="484.6" y1="382.3" x2="490.3" y2="376.3" stroke="#2a2a2a" stroke-width="0.45"/>
<line x1="492.2" y1="377.2" x2="488.3" y2="375.4" stroke="#2a2a2a" stroke-width="0.5"/>
<polygon points="483.3,368.7 487.0,366.7 490.2,368.2 490.8,366.8 487.0,365.3 482.7,367.3" fill="#fff" stroke="#2a2a2a" stroke-width="0.85" stroke-linejoin="round"/>
<circle cx="493.6" cy="375.4" r="1.80" fill="#222"/>
<polygon points="493.9,350.7 496.5,362.8 502.4,372.6 504.2,371.8 500.5,361.2 495.7,350.1" fill="#fff" stroke="#2a2a2a" stroke-width="0.85" stroke-linejoin="round"/>
<line x1="494.8" y1="350.4" x2="498.5" y2="362.0" stroke="#2a2a2a" stroke-width="0.45"/>
<line x1="496.5" y1="362.8" x2="500.5" y2="361.2" stroke="#2a2a2a" stroke-width="0.5"/>
<polygon points="503.6,373.3 508.4,372.8 512.2,369.5 511.4,367.7 506.6,368.8 503.0,371.5" fill="#fff" stroke="#2a2a2a" stroke-width="0.85" stroke-linejoin="round"/>
<line x1="503.3" y1="372.4" x2="507.5" y2="370.8" stroke="#2a2a2a" stroke-width="0.45"/>
<line x1="508.4" y1="372.8" x2="506.6" y2="368.8" stroke="#2a2a2a" stroke-width="0.5"/>
<circle cx="513.0" cy="367.4" r="2.03" fill="#222"/>
<polygon points="510.2,369.8 508.8,376.4 507.6,383.7 509.2,383.9 510.4,376.6 511.8,370.2" fill="#fff" stroke="#2a2a2a" stroke-width="0.85" stroke-linejoin="round"/>
<polygon points="503.3,373.1 504.3,377.9 502.2,380.6 503.4,381.4 505.7,378.1 504.7,372.9" fill="#fff" stroke="#2a2a2a" stroke-width="0.85" stroke-linejoin="round"/>
<polygon points="512.7,372.2 523.7,377.6 536.3,375.7 536.1,373.9 524.3,373.6 513.3,370.6" fill="#fff" stroke="#2a2a2a" stroke-width="0.85" stroke-linejoin="round"/>
<line x1="513.0" y1="371.4" x2="524.0" y2="375.6" stroke="#2a2a2a" stroke-width="0.45"/>
<line x1="523.7" y1="377.6" x2="524.3" y2="373.6" stroke="#2a2a2a" stroke-width="0.5"/>
<circle cx="538.0" cy="368.2" r="2.03" fill="#222"/>
<polygon points="536.9,370.0 537.1,377.0 537.3,384.6 539.1,384.6 538.9,377.0 538.7,370.0" fill="#fff" stroke="#2a2a2a" stroke-width="0.85" stroke-linejoin="round"/>
<text x="536.4" y="429.3" font-family="Liberation Sans, sans-serif" font-size="7.6" font-weight="bold" fill="#222" textLength="10.4" lengthAdjust="spacingAndGlyphs">Ma</text>
</g>
<g>
<line x1="703.9" y1="399.7" x2="795.1" y2="399.7" stroke="#6a6a6a" stroke-width="2.00"/>
<line x1="703.9" y1="400.5" x2="795.1" y2="400.5" stroke="#444" stroke-width="0.60"/>
<polygon points="708.3,364.1 708.3,364.9 708.4,366.4 708.5,368.6 708.7,371.7 708.9,374.7 709.3,377.7 709.7,380.8 710.2,383.8 710.7,386.6 711.1,389.5 711.5,392.2 711.9,394.9 712.2,397.0 712.3,398.4 712.4,399.0 714.0,399.0 714.0,398.3 714.0,396.9 714.1,394.8 714.2,392.0 714.1,389.2 713.9,386.2 713.5,383.2 713.0,380.2 712.5,377.3 711.9,374.3 711.3,371.3 710.7,368.4 710.2,366.1 709.9,364.6 709.7,363.9" fill="#fff" stroke="#2a2a2a" stroke-width="0.85" stroke-linejoin="round"/>
<line x1="709.0" y1="364.0" x2="710.4" y2="374.5" stroke="#2a2a2a" stroke-width="0.45"/>
<line x1="708.9" y1="374.7" x2="711.9" y2="374.3" stroke="#2a2a2a" stroke-width="0.5"/>
<circle cx="715.3" cy="389.4" r="1.80" fill="#222"/>
<polygon points="717.4,376.5 717.8,376.7 718.7,377.0 719.9,377.5 721.6,378.1 723.2,378.8 724.8,379.6 726.5,380.5 728.1,381.6 729.7,382.7 731.2,383.9 732.7,385.2 734.2,386.6 735.5,387.9 736.9,389.2 738.1,390.5 739.3,391.8 740.4,393.1 741.4,394.4 742.4,395.7 743.3,397.1 744.0,398.2 744.5,398.9 744.8,399.3 746.0,398.5 745.9,398.1 745.5,397.4 744.9,396.2 744.2,394.7 743.3,393.1 742.4,391.6 741.4,390.1 740.4,388.6 739.2,387.1 737.9,385.6 736.5,384.2 734.9,382.7 733.2,381.4 731.5,380.1 729.7,379.0 727.8,378.1 725.9,377.2 724.1,376.5 722.3,376.0 720.5,375.6 719.1,375.4 718.2,375.2 717.8,375.1" fill="#fff" stroke="#2a2a2a" stroke-width="0.85" stroke-linejoin="round"/>
<line x1="717.6" y1="375.8" x2="723.6" y2="377.7" stroke="#2a2a2a" stroke-width="0.45"/>
<line x1="723.2" y1="378.8" x2="724.1" y2="376.5" stroke="#2a2a2a" stroke-width="0.5"/>
<circle cx="740.6" cy="391.0" r="1.80" fill="#222"/>
<polygon points="745.0,401.2 744.7,401.7 744.3,402.7 743.6,404.2 742.7,406.2 741.7,408.2 740.6,410.3 739.3,412.5 737.9,414.7 736.3,416.6 734.4,418.5 732.0,420.2 729.3,421.9 727.2,423.2 725.7,424.0 725.0,424.5 725.8,425.9 726.5,425.6 728.1,425.0 730.4,424.1 733.5,422.8 736.4,421.1 738.8,419.2 740.9,416.9 742.5,414.4 743.7,411.9 744.7,409.5 745.4,407.2 745.9,404.9 746.1,403.3 746.3,402.2 746.4,401.6" fill="#fff" stroke="#2a2a2a" stroke-width="0.85" stroke-linejoin="round"/>
<line x1="725.4" y1="425.2" x2="735.4" y2="419.8" stroke="#2a2a2a" stroke-width="0.45"/>
<line x1="734.4" y1="418.5" x2="736.4" y2="421.1" stroke="#2a2a2a" stroke-width="0.5"/>
<circle cx="744.6" cy="406.6" r="1.35" fill="#222"/>
<polygon points="748.0,401.5 748.3,401.9 748.8,402.8 749.7,404.0 750.9,405.8 752.4,407.3 754.3,408.2 756.4,408.7 758.5,408.5 760.5,408.2 762.4,407.6 764.3,406.9 765.9,406.1 767.6,405.5 769.5,405.0 771.6,404.7 774.0,404.5 775.9,404.4 777.1,404.3 777.8,404.2 777.8,402.6 777.2,402.5 776.0,402.3 774.1,402.1 771.5,401.7 769.0,401.7 766.7,402.0 764.6,402.7 762.8,403.5 761.2,404.1 759.7,404.6 758.1,404.9 756.6,405.0 755.3,404.8 754.1,404.4 752.8,403.7 751.4,402.5 750.3,401.5 749.6,400.8 749.2,400.5" fill="#fff" stroke="#2a2a2a" stroke-width="0.85" stroke-linejoin="round"/>
<line x1="777.8" y1="403.4" x2="769.2" y2="403.4" stroke="#2a2a2a" stroke-width="0.45"/>
<line x1="769.5" y1="405.0" x2="769.0" y2="401.7" stroke="#2a2a2a" stroke-width="0.5"/>
<circle cx="753.2" cy="409.0" r="1.80" fill="#222"/>
<polyline points="723.1,402.6 723.6,404.9 724.4,407.1 725.4,409.2 726.6,411.2 728.0,413.0 729.6,414.6 731.2,416.2 733.0,417.6 734.9,418.7 737.0,419.7 739.1,420.4 741.3,420.9 743.5,421.3 745.7,421.3 747.9,421.2 750.1,420.8 752.2,420.2 754.3,419.4 756.2,418.3 758.0,417.0 759.6,415.5 761.0,413.9 762.2,412.1 763.3,410.3" fill="none" stroke="#2a2a2a" stroke-width="0.70" stroke-linecap="round" stroke-linejoin="round"/>
<polyline points="763.3,410.3 761.1,411.7" fill="none" stroke="#2a2a2a" stroke-width="0.70" stroke-linecap="round" stroke-linejoin="round"/>
<polyline points="763.3,410.3 763.0,412.8" fill="none" stroke="#2a2a2a" stroke-width="0.70" stroke-linecap="round" stroke-linejoin="round"/>
<polygon points="759.6,394.7 759.8,394.2 760.3,393.2 761.0,391.6 762.0,389.7 762.9,387.7 763.9,385.8 764.8,383.9 765.8,381.9 766.7,380.0 767.6,378.2 768.4,376.5 769.1,374.8 769.7,373.6 770.1,372.7 770.3,372.3 768.7,371.3 768.4,371.7 767.8,372.4 766.9,373.4 765.6,374.8 764.4,376.4 763.3,378.2 762.2,380.1 761.2,382.1 760.3,384.3 759.6,386.4 759.0,388.6 758.6,390.9 758.3,392.5 758.1,393.6 758.0,394.1" fill="#fff" stroke="#2a2a2a" stroke-width="0.85" stroke-linejoin="round"/>
<line x1="758.8" y1="394.4" x2="761.2" y2="387.1" stroke="#2a2a2a" stroke-width="0.45"/>
<line x1="762.9" y1="387.7" x2="759.6" y2="386.4" stroke="#2a2a2a" stroke-width="0.5"/>
<polygon points="759.0,377.5 762.4,381.5 767.4,387.1 768.6,386.1 763.6,380.5 760.2,376.5" fill="#fff" stroke="#2a2a2a" stroke-width="0.85" stroke-linejoin="round"/>
<circle cx="759.6" cy="392.4" r="1.65" fill="#222"/>
<polygon points="775.4,363.9 775.2,364.6 774.9,366.1 774.4,368.3 773.7,371.3 773.2,374.4 772.9,377.5 772.9,380.6 773.0,383.6 773.2,386.4 773.3,389.2 773.4,391.9 773.6,394.5 773.7,396.5 773.7,397.9 773.7,398.5 775.9,398.7 776.0,398.0 776.2,396.7 776.6,394.7 777.2,392.1 777.5,389.3 777.7,386.4 777.7,383.4 777.6,380.4 777.5,377.5 777.4,374.6 777.4,371.7 777.4,368.7 777.4,366.4 777.4,364.9 777.4,364.1" fill="#fff" stroke="#2a2a2a" stroke-width="0.85" stroke-linejoin="round"/>
<line x1="776.4" y1="364.0" x2="775.3" y2="374.5" stroke="#2a2a2a" stroke-width="0.45"/>
<line x1="773.2" y1="374.4" x2="777.4" y2="374.6" stroke="#2a2a2a" stroke-width="0.5"/>
<polygon points="775.6,388.6 778.9,391.0 779.3,395.1 780.7,394.9 780.3,390.2 776.4,387.4" fill="#fff" stroke="#2a2a2a" stroke-width="0.85" stroke-linejoin="round"/>
<circle cx="779.8" cy="391.6" r="1.65" fill="#222"/>
<polygon points="786.4,364.1 786.4,364.9 786.4,366.4 786.4,368.6 786.5,371.7 786.6,374.7 786.8,377.7 787.0,380.7 787.2,383.6 787.4,386.4 787.5,389.2 787.5,391.8 787.4,394.5 787.4,396.5 787.3,397.8 787.3,398.5 789.1,398.7 789.3,398.1 789.6,396.8 790.0,394.8 790.7,392.1 791.1,389.3 791.3,386.4 791.2,383.4 791.0,380.3 790.6,377.3 790.2,374.3 789.6,371.3 789.0,368.4 788.5,366.1 788.2,364.6 788.0,363.9" fill="#fff" stroke="#2a2a2a" stroke-width="0.85" stroke-linejoin="round"/>
<line x1="787.2" y1="364.0" x2="788.4" y2="374.5" stroke="#2a2a2a" stroke-width="0.45"/>
<line x1="786.6" y1="374.7" x2="790.2" y2="374.3" stroke="#2a2a2a" stroke-width="0.5"/>
<circle cx="791.0" cy="389.4" r="1.80" fill="#222"/>
<ellipse cx="814.3" cy="424.0" rx="3.6" ry="4.5" fill="none" stroke="#222" stroke-width="0.80"/>
<polyline points="821.6,416.8 821.2,430.4" fill="none" stroke="#2a2a2a" stroke-width="1.00" stroke-linecap="round" stroke-linejoin="round"/>
<ellipse cx="819.8" cy="426.6" rx="1.3" ry="2.0" fill="none" stroke="#222" stroke-width="0.60"/>
</g>
<g>
<line x1="421.2" y1="513.2" x2="543.0" y2="513.2" stroke="#5a5a5a" stroke-width="1.50"/>
<line x1="421.2" y1="513.8" x2="543.0" y2="513.8" stroke="#444" stroke-width="0.40"/>
<polygon points="422.1,478.7 423.1,490.1 424.1,502.1 424.5,512.4 426.3,512.4 425.9,501.9 424.9,489.9 423.9,478.5" fill="#fff" stroke="#2a2a2a" stroke-width="0.85" stroke-linejoin="round"/>
<circle cx="427.6" cy="502.2" r="1.50" fill="#222"/>
<polygon points="429.5,490.2 430.4,490.8 432.2,491.9 434.9,493.7 438.6,495.9 441.6,498.0 443.9,499.8 445.6,501.4 446.8,502.8 448.0,504.3 449.3,506.0 450.7,507.8 452.0,509.7 453.1,511.1 453.8,512.1 454.1,512.6 455.5,511.8 455.2,511.3 454.7,510.2 454.0,508.6 452.9,506.4 451.8,504.3 450.7,502.4 449.4,500.7 448.0,499.0 445.9,497.2 443.2,495.5 439.9,493.7 436.0,491.8 433.1,490.4 431.1,489.4 430.1,489.0" fill="#fff" stroke="#2a2a2a" stroke-width="0.85" stroke-linejoin="round"/>
<line x1="429.8" y1="489.6" x2="442.4" y2="496.7" stroke="#2a2a2a" stroke-width="0.45"/>
<line x1="441.6" y1="498.0" x2="443.2" y2="495.5" stroke="#2a2a2a" stroke-width="0.5"/>
<circle cx="450.8" cy="503.6" r="1.80" fill="#222"/>
<polygon points="456.0,514.6 455.7,515.4 454.9,517.0 453.8,519.3 452.3,522.3 450.8,525.0 449.1,527.5 447.4,529.7 445.7,531.6 443.9,533.2 442.0,534.4 439.9,535.4 437.6,536.0 435.7,536.5 434.5,536.9 433.9,537.1 434.1,538.5 434.8,538.5 436.0,538.4 437.9,538.2 440.6,538.0 443.2,537.2 445.7,535.9 448.0,534.1 450.1,531.8 451.8,529.3 453.4,526.5 454.7,523.4 455.8,520.1 456.6,517.6 457.1,516.0 457.4,515.2" fill="#fff" stroke="#2a2a2a" stroke-width="0.85" stroke-linejoin="round"/>
<line x1="434.0" y1="537.8" x2="442.6" y2="535.8" stroke="#2a2a2a" stroke-width="0.45"/>
<line x1="442.0" y1="534.4" x2="443.2" y2="537.2" stroke="#2a2a2a" stroke-width="0.5"/>
<circle cx="455.6" cy="521.0" r="1.35" fill="#222"/>
<polygon points="459.9,514.7 460.2,515.1 460.8,516.0 461.7,517.3 463.0,519.1 464.6,520.7 466.5,521.8 468.6,522.4 470.7,522.5 472.7,522.5 474.8,522.4 476.9,522.2 478.9,522.0 480.6,522.1 482.2,522.4 483.8,523.0 485.5,524.0 486.8,524.8 487.7,525.3 488.1,525.6 489.1,524.4 488.7,524.0 487.9,523.3 486.8,522.3 485.2,520.7 483.3,519.6 481.2,518.9 478.9,518.7 476.6,518.9 474.6,519.0 472.7,519.1 470.8,519.1 469.1,519.0 467.6,518.7 466.2,518.2 464.8,517.3 463.3,515.9 462.1,514.8 461.3,514.1 460.9,513.7" fill="#fff" stroke="#2a2a2a" stroke-width="0.85" stroke-linejoin="round"/>
<line x1="488.6" y1="525.0" x2="482.8" y2="521.0" stroke="#2a2a2a" stroke-width="0.45"/>
<line x1="482.2" y1="522.4" x2="483.3" y2="519.6" stroke="#2a2a2a" stroke-width="0.5"/>
<circle cx="464.4" cy="520.8" r="1.80" fill="#222"/>
<polyline points="434.8,515.1 434.7,517.5 434.8,519.9 435.3,522.4 436.0,524.8 437.0,527.1 438.2,529.4 439.9,531.4 441.8,533.2 443.9,534.8 446.2,536.2 448.6,537.4 451.1,538.3 453.8,538.8 456.5,538.9 459.2,538.8 461.9,538.4 464.5,537.8 467.1,536.8 469.5,535.5 471.7,534.0 473.8,532.3 475.7,530.4 477.4,528.2 478.8,526.0" fill="none" stroke="#2a2a2a" stroke-width="0.70" stroke-linecap="round" stroke-linejoin="round"/>
<polygon points="469.5,507.5 469.7,507.0 470.2,506.0 471.0,504.6 472.0,502.7 473.0,500.8 473.8,499.0 474.6,497.2 475.4,495.5 476.0,493.7 476.5,492.0 476.8,490.4 476.9,488.8 477.0,487.7 477.1,487.0 477.1,486.6 475.3,486.0 475.1,486.4 474.7,487.0 474.2,488.0 473.5,489.3 472.8,490.7 472.1,492.2 471.4,493.8 470.6,495.5 469.9,497.4 469.3,499.4 468.8,501.5 468.4,503.7 468.1,505.3 467.8,506.4 467.7,506.9" fill="#fff" stroke="#2a2a2a" stroke-width="0.85" stroke-linejoin="round"/>
<line x1="468.6" y1="507.2" x2="471.1" y2="500.1" stroke="#2a2a2a" stroke-width="0.45"/>
<line x1="473.0" y1="500.8" x2="469.3" y2="499.4" stroke="#2a2a2a" stroke-width="0.5"/>
<polygon points="462.3,506.2 465.1,503.7 468.7,505.7 469.3,504.3 464.9,502.3 461.3,505.0" fill="#fff" stroke="#2a2a2a" stroke-width="0.85" stroke-linejoin="round"/>
<polygon points="467.4,495.4 470.0,499.0 471.2,498.2 468.6,494.6" fill="#fff" stroke="#2a2a2a" stroke-width="0.85" stroke-linejoin="round"/>
<circle cx="466.0" cy="508.6" r="1.65" fill="#222"/>
<polygon points="483.8,477.0 483.8,477.8 483.6,479.4 483.4,481.9 483.2,485.1 483.0,488.3 482.8,491.4 482.8,494.5 482.8,497.5 482.8,500.4 482.9,503.0 483.1,505.6 483.4,508.0 483.6,509.8 483.7,511.0 483.8,511.6 485.4,511.6 485.5,511.0 485.6,509.8 485.8,508.0 486.1,505.6 486.3,503.0 486.4,500.4 486.4,497.5 486.4,494.5 486.4,491.4 486.2,488.3 486.0,485.1 485.8,481.9 485.6,479.4 485.4,477.8 485.4,477.0" fill="#fff" stroke="#2a2a2a" stroke-width="0.85" stroke-linejoin="round"/>
<line x1="484.6" y1="477.0" x2="484.6" y2="488.3" stroke="#2a2a2a" stroke-width="0.45"/>
<line x1="483.0" y1="488.3" x2="486.2" y2="488.3" stroke="#2a2a2a" stroke-width="0.5"/>
<polygon points="482.3,504.3 484.9,502.9 489.1,505.1 489.7,503.7 485.1,501.5 481.7,502.9" fill="#fff" stroke="#2a2a2a" stroke-width="0.85" stroke-linejoin="round"/>
<polygon points="496.5,477.8 496.5,478.6 496.4,480.1 496.2,482.4 496.0,485.5 495.9,488.5 495.8,491.5 495.8,494.5 495.9,497.5 495.9,500.4 496.0,503.1 496.1,505.6 496.2,508.0 496.2,509.8 496.3,511.0 496.3,511.6 500.1,511.6 500.1,511.0 500.1,509.8 500.1,508.0 500.1,505.6 500.1,503.0 500.0,500.3 500.0,497.5 499.9,494.5 499.8,491.4 499.6,488.4 499.3,485.4 498.9,482.3 498.6,480.1 498.4,478.5 498.3,477.8" fill="#fff" stroke="#2a2a2a" stroke-width="0.85" stroke-linejoin="round"/>
<line x1="497.4" y1="477.8" x2="497.7" y2="488.5" stroke="#2a2a2a" stroke-width="0.45"/>
<line x1="495.9" y1="488.5" x2="499.6" y2="488.4" stroke="#2a2a2a" stroke-width="0.5"/>
<polyline points="497.8,480.0 498.0,500.0" fill="none" stroke="#2a2a2a" stroke-width="0.60" stroke-linecap="round" stroke-linejoin="round"/>
<polygon points="502.5,482.3 505.0,492.8 510.0,502.6 511.8,501.8 509.0,491.2 504.3,481.7" fill="#fff" stroke="#2a2a2a" stroke-width="0.85" stroke-linejoin="round"/>
<line x1="503.4" y1="482.0" x2="507.0" y2="492.0" stroke="#2a2a2a" stroke-width="0.45"/>
<line x1="505.0" y1="492.8" x2="509.0" y2="491.2" stroke="#2a2a2a" stroke-width="0.5"/>
<polygon points="510.0,502.3 509.7,506.9 509.1,511.5 510.9,511.7 511.5,507.1 511.8,502.5" fill="#fff" stroke="#2a2a2a" stroke-width="0.85" stroke-linejoin="round"/>
<polygon points="510.3,501.0 506.4,502.8 504.2,504.7 505.0,505.7 507.2,504.0 510.9,502.2" fill="#fff" stroke="#2a2a2a" stroke-width="0.85" stroke-linejoin="round"/>
<polygon points="513.8,489.9 516.5,498.7 521.2,506.7 522.6,506.1 519.5,497.3 515.0,489.3" fill="#fff" stroke="#2a2a2a" stroke-width="0.85" stroke-linejoin="round"/>
<line x1="514.4" y1="489.6" x2="518.0" y2="498.0" stroke="#2a2a2a" stroke-width="0.45"/>
<line x1="516.5" y1="498.7" x2="519.5" y2="497.3" stroke="#2a2a2a" stroke-width="0.5"/>
<polygon points="522.1,507.1 526.7,506.5 529.2,504.1 528.4,502.7 525.3,503.5 521.7,505.7" fill="#fff" stroke="#2a2a2a" stroke-width="0.85" stroke-linejoin="round"/>
<line x1="521.9" y1="506.4" x2="526.0" y2="505.0" stroke="#2a2a2a" stroke-width="0.45"/>
<line x1="526.7" y1="506.5" x2="525.3" y2="503.5" stroke="#2a2a2a" stroke-width="0.5"/>
<circle cx="529.6" cy="502.8" r="1.80" fill="#222"/>
<polygon points="527.0,505.1 525.0,508.6 523.0,511.4 524.2,512.2 526.2,509.4 528.2,505.7" fill="#fff" stroke="#2a2a2a" stroke-width="0.85" stroke-linejoin="round"/>
<polygon points="534.2,511.3 534.1,511.6 533.9,512.2 533.5,513.1 533.1,514.2 532.5,515.1 531.7,515.8 530.5,516.6 528.9,517.3 527.3,518.0 525.7,518.8 524.2,519.5 522.7,520.2 521.3,520.9 519.9,521.7 518.5,522.4 517.2,523.2 516.2,523.7 515.6,524.1 515.3,524.3 515.9,525.7 516.3,525.6 517.0,525.3 518.0,524.9 519.4,524.3 520.9,523.8 522.3,523.2 523.8,522.5 525.3,521.8 526.8,521.1 528.4,520.4 530.0,519.7 531.7,518.9 533.3,517.9 534.5,516.6 535.3,515.2 535.7,513.8 535.9,512.9 536.1,512.2 536.2,511.9" fill="#fff" stroke="#2a2a2a" stroke-width="0.85" stroke-linejoin="round"/>
<line x1="515.6" y1="525.0" x2="520.4" y2="522.7" stroke="#2a2a2a" stroke-width="0.45"/>
<line x1="519.9" y1="521.7" x2="520.9" y2="523.8" stroke="#2a2a2a" stroke-width="0.5"/>
<circle cx="535.6" cy="510.2" r="1.80" fill="#222"/>
<ellipse cx="533.6" cy="554.6" rx="3.2" ry="3.4" fill="none" stroke="#222" stroke-width="0.80"/>
<text x="538.2" y="553.4" font-family="Liberation Sans, sans-serif" font-size="6.6" font-weight="normal" fill="#222" textLength="9.2" lengthAdjust="spacingAndGlyphs">Mk</text>
</g>
<g>
<line x1="692.8" y1="515.2" x2="819.8" y2="515.2" stroke="#6a6a6a" stroke-width="2.00"/>
<line x1="692.8" y1="516.0" x2="819.8" y2="516.0" stroke="#444" stroke-width="0.60"/>
<polygon points="694.6,482.1 694.6,482.8 694.6,484.4 694.6,486.6 694.6,489.7 694.7,492.6 694.9,495.5 695.1,498.4 695.5,501.1 695.9,503.7 696.3,506.3 696.7,508.7 697.2,511.0 697.5,512.7 697.8,513.9 697.9,514.5 699.7,514.3 699.7,513.7 699.8,512.5 699.8,510.8 699.9,508.4 699.9,505.9 699.7,503.3 699.5,500.6 699.1,497.9 698.7,495.1 698.2,492.2 697.7,489.3 697.1,486.4 696.7,484.1 696.4,482.7 696.2,481.9" fill="#fff" stroke="#2a2a2a" stroke-width="0.85" stroke-linejoin="round"/>
<line x1="695.4" y1="482.0" x2="696.5" y2="492.4" stroke="#2a2a2a" stroke-width="0.45"/>
<line x1="694.7" y1="492.6" x2="698.2" y2="492.2" stroke="#2a2a2a" stroke-width="0.5"/>
<circle cx="699.8" cy="505.6" r="1.50" fill="#222"/>
<polygon points="702.1,493.1 702.9,493.5 704.7,494.4 707.3,495.7 710.7,497.4 713.5,499.0 715.8,500.6 717.5,502.1 718.8,503.7 720.2,505.5 721.8,507.4 723.4,509.4 725.1,511.6 726.3,513.2 727.2,514.3 727.6,514.9 729.2,513.9 728.9,513.3 728.2,512.0 727.3,510.2 726.1,507.7 724.7,505.3 723.3,503.1 721.9,501.1 720.3,499.3 718.0,497.5 715.3,495.9 712.0,494.5 708.2,493.3 705.5,492.4 703.6,491.8 702.7,491.5" fill="#fff" stroke="#2a2a2a" stroke-width="0.85" stroke-linejoin="round"/>
<line x1="702.4" y1="492.3" x2="714.4" y2="497.4" stroke="#2a2a2a" stroke-width="0.45"/>
<line x1="713.5" y1="499.0" x2="715.3" y2="495.9" stroke="#2a2a2a" stroke-width="0.5"/>
<circle cx="722.8" cy="505.6" r="1.80" fill="#222"/>
<polygon points="729.5,516.6 729.1,517.4 728.4,518.9 727.2,521.2 725.7,524.3 724.2,526.9 722.6,529.1 721.1,530.9 719.6,532.4 717.9,533.8 715.8,535.1 713.5,536.3 710.7,537.4 708.5,538.2 707.1,538.7 706.3,539.0 706.9,540.8 707.6,540.6 709.1,540.3 711.4,539.9 714.5,539.3 717.4,538.3 720.0,537.1 722.3,535.5 724.2,533.6 725.8,531.3 727.3,528.6 728.6,525.5 729.6,522.2 730.3,519.7 730.8,518.0 731.1,517.2" fill="#fff" stroke="#2a2a2a" stroke-width="0.85" stroke-linejoin="round"/>
<line x1="706.6" y1="539.9" x2="716.6" y2="536.7" stroke="#2a2a2a" stroke-width="0.45"/>
<line x1="715.8" y1="535.1" x2="717.4" y2="538.3" stroke="#2a2a2a" stroke-width="0.5"/>
<circle cx="729.4" cy="523.0" r="1.35" fill="#222"/>
<polygon points="733.9,516.5 734.1,516.9 734.5,517.8 735.2,519.2 736.1,521.1 737.6,522.9 739.5,524.2 741.7,525.0 744.1,525.4 746.4,525.4 748.7,525.2 751.1,524.8 753.1,524.1 754.8,523.9 756.6,523.9 758.4,524.3 760.5,525.0 762.1,525.6 763.2,526.0 763.8,526.2 764.6,524.6 764.1,524.3 763.1,523.6 761.7,522.6 759.6,521.3 757.3,520.4 754.8,520.0 752.3,520.2 750.1,520.9 748.2,521.2 746.3,521.4 744.4,521.3 742.6,521.1 741.1,520.7 739.8,520.0 738.6,519.1 737.3,517.8 736.3,516.6 735.6,515.9 735.3,515.5" fill="#fff" stroke="#2a2a2a" stroke-width="0.85" stroke-linejoin="round"/>
<line x1="764.2" y1="525.4" x2="756.9" y2="522.1" stroke="#2a2a2a" stroke-width="0.45"/>
<line x1="756.6" y1="523.9" x2="757.3" y2="520.4" stroke="#2a2a2a" stroke-width="0.5"/>
<circle cx="737.2" cy="522.0" r="1.80" fill="#222"/>
<polyline points="706.9,519.3 707.4,521.6 708.1,523.8 709.1,525.9 710.2,527.9 711.6,529.8 713.1,531.5 714.8,533.1 716.6,534.6 718.5,535.8 720.6,536.8 722.7,537.7 725.0,538.3 727.2,538.7 729.5,538.9 731.8,538.8 734.1,538.6 736.4,538.1 738.6,537.4 740.7,536.4 742.7,535.3 744.6,534.0 746.4,532.5 748.0,530.9 749.4,529.1" fill="none" stroke="#2a2a2a" stroke-width="0.70" stroke-linecap="round" stroke-linejoin="round"/>
<polygon points="741.5,509.5 741.7,509.0 742.2,508.0 743.0,506.6 744.0,504.6 744.9,502.8 745.8,500.9 746.5,499.1 747.1,497.3 747.6,495.6 748.0,493.8 748.2,492.2 748.3,490.6 748.3,489.4 748.3,488.6 748.4,488.2 746.4,487.8 746.3,488.1 746.0,488.9 745.5,489.9 744.8,491.3 744.2,492.8 743.6,494.3 743.0,495.9 742.4,497.6 741.8,499.5 741.3,501.4 740.8,503.5 740.4,505.7 740.1,507.3 739.8,508.4 739.7,508.9" fill="#fff" stroke="#2a2a2a" stroke-width="0.85" stroke-linejoin="round"/>
<line x1="740.6" y1="509.2" x2="743.1" y2="502.1" stroke="#2a2a2a" stroke-width="0.45"/>
<line x1="744.9" y1="502.8" x2="741.3" y2="501.4" stroke="#2a2a2a" stroke-width="0.5"/>
<polygon points="733.4,508.2 737.1,505.7 740.7,507.3 741.3,505.9 736.9,504.3 732.6,507.0" fill="#fff" stroke="#2a2a2a" stroke-width="0.85" stroke-linejoin="round"/>
<polygon points="740.4,496.4 743.4,500.8 744.6,500.0 741.6,495.6" fill="#fff" stroke="#2a2a2a" stroke-width="0.85" stroke-linejoin="round"/>
<circle cx="738.6" cy="510.6" r="1.65" fill="#222"/>
<polygon points="754.6,479.6 754.5,480.3 754.3,481.9 754.0,484.2 753.6,487.3 753.3,490.4 753.0,493.4 752.9,496.5 752.9,499.5 752.9,502.3 753.1,505.0 753.3,507.6 753.6,510.0 753.8,511.8 754.0,513.0 754.0,513.6 756.2,513.6 756.2,513.0 756.4,511.8 756.7,510.0 757.0,507.6 757.3,505.1 757.5,502.4 757.6,499.5 757.6,496.5 757.6,493.5 757.4,490.5 757.3,487.4 757.0,484.3 756.8,482.0 756.7,480.4 756.6,479.6" fill="#fff" stroke="#2a2a2a" stroke-width="0.85" stroke-linejoin="round"/>
<line x1="755.6" y1="479.6" x2="755.3" y2="490.4" stroke="#2a2a2a" stroke-width="0.45"/>
<line x1="753.3" y1="490.4" x2="757.4" y2="490.5" stroke="#2a2a2a" stroke-width="0.5"/>
<polygon points="753.3,506.1 755.9,504.9 760.9,507.4 761.3,509.2 762.7,508.8 761.9,506.2 756.1,503.5 752.7,504.7" fill="#fff" stroke="#2a2a2a" stroke-width="0.85" stroke-linejoin="round"/>
<polygon points="766.5,479.6 766.5,480.4 766.4,482.0 766.3,484.3 766.2,487.4 766.1,490.5 766.0,493.6 766.1,496.6 766.2,499.6 766.3,502.4 766.4,505.1 766.5,507.7 766.6,510.1 766.7,511.9 766.8,513.1 766.8,513.7 770.6,513.5 770.6,512.9 770.6,511.7 770.6,509.9 770.5,507.5 770.5,505.0 770.4,502.3 770.3,499.4 770.2,496.4 770.0,493.4 769.8,490.3 769.4,487.3 768.9,484.2 768.6,481.9 768.4,480.3 768.3,479.6" fill="#fff" stroke="#2a2a2a" stroke-width="0.85" stroke-linejoin="round"/>
<line x1="767.4" y1="479.6" x2="767.9" y2="490.4" stroke="#2a2a2a" stroke-width="0.45"/>
<line x1="766.1" y1="490.5" x2="769.8" y2="490.3" stroke="#2a2a2a" stroke-width="0.5"/>
<polyline points="767.8,482.0 768.2,500.0" fill="none" stroke="#2a2a2a" stroke-width="0.60" stroke-linecap="round" stroke-linejoin="round"/>
<polygon points="774.0,485.9 777.5,494.3 783.1,500.4 784.9,499.2 781.5,491.7 775.6,484.9" fill="#fff" stroke="#2a2a2a" stroke-width="0.85" stroke-linejoin="round"/>
<line x1="774.8" y1="485.4" x2="779.5" y2="493.0" stroke="#2a2a2a" stroke-width="0.45"/>
<line x1="777.5" y1="494.3" x2="781.5" y2="491.7" stroke="#2a2a2a" stroke-width="0.5"/>
<polygon points="783.6,500.4 785.3,502.9 787.5,503.3 788.5,501.9 787.5,499.9 784.4,499.2" fill="#fff" stroke="#2a2a2a" stroke-width="0.85" stroke-linejoin="round"/>
<line x1="784.0" y1="499.8" x2="786.4" y2="501.4" stroke="#2a2a2a" stroke-width="0.45"/>
<line x1="785.3" y1="502.9" x2="787.5" y2="499.9" stroke="#2a2a2a" stroke-width="0.5"/>
<circle cx="788.6" cy="502.6" r="1.80" fill="#222"/>
<polygon points="787.0,504.0 786.8,509.0 786.6,513.6 788.2,513.6 788.4,509.0 788.6,504.0" fill="#fff" stroke="#2a2a2a" stroke-width="0.85" stroke-linejoin="round"/>
<polygon points="781.5,499.5 778.1,502.5 776.2,504.1 777.0,505.1 779.1,503.5 782.5,500.5" fill="#fff" stroke="#2a2a2a" stroke-width="0.85" stroke-linejoin="round"/>
<polygon points="791.0,511.6 800.0,512.7 808.6,511.6 808.6,510.0 800.0,509.1 791.0,510.0" fill="#fff" stroke="#2a2a2a" stroke-width="0.85" stroke-linejoin="round"/>
<line x1="791.0" y1="510.8" x2="800.0" y2="510.9" stroke="#2a2a2a" stroke-width="0.45"/>
<line x1="800.0" y1="512.7" x2="800.0" y2="509.1" stroke="#2a2a2a" stroke-width="0.5"/>
<polygon points="809.4,511.0 812.5,507.8 813.3,504.4 811.9,503.6 809.5,506.2 808.2,510.2" fill="#fff" stroke="#2a2a2a" stroke-width="0.85" stroke-linejoin="round"/>
<line x1="808.8" y1="510.6" x2="811.0" y2="507.0" stroke="#2a2a2a" stroke-width="0.45"/>
<line x1="812.5" y1="507.8" x2="809.5" y2="506.2" stroke="#2a2a2a" stroke-width="0.5"/>
<circle cx="813.2" cy="501.8" r="1.65" fill="#222"/>
<ellipse cx="806.4" cy="553.5" rx="4.1" ry="4.6" fill="none" stroke="#222" stroke-width="0.80"/>
<text x="812.0" y="550.9" font-family="Liberation Sans, sans-serif" font-size="7.6" font-weight="normal" fill="#222" textLength="11.6" lengthAdjust="spacingAndGlyphs">Mk</text>
</g>
</svg>
<div class="t h" id="t0" style="left:49.80px;top:7.93px;font-size:12.90px;letter-spacing:0.021px;">A = 0,1</div>
<div class="t h" id="t1" style="left:187.20px;top:7.93px;font-size:12.90px;letter-spacing:-0.046px;">B = 0,2</div>
<div class="t h" id="t2" style="left:324.80px;top:7.93px;font-size:12.90px;letter-spacing:0.040px;">C = 0,3</div>
<div class="t h" id="t3" style="left:461.90px;top:7.93px;font-size:12.90px;letter-spacing:0.025px;">D = 0,4</div>
<div class="t h" id="t4" style="left:599.50px;top:7.93px;font-size:12.90px;letter-spacing:-0.060px;">E = 0,5</div>
<div class="t h" id="t5" style="left:690.20px;top:7.93px;font-size:12.90px;letter-spacing:0.021px;">F = 0,6 G = 0,7 H = 0,8</div>
<div class="t g" id="t6" style="left:7.40px;top:33.45px;font-size:8.40px;letter-spacing:-0.151px;">EG III: Schwungelemente durch den Hang an 1 od. 2 Holmen und Unterschwünge -</div>
<div class="t gi" id="t7" style="left:327.50px;top:33.45px;font-size:8.40px;letter-spacing:-0.223px;">Long swings in hang on 1 or 2 bars and Underswings</div>
<div class="t g" id="t8" style="left:532.50px;top:33.45px;font-size:8.40px;letter-spacing:-0.135px;">- Элементы в висе на 1 или 2 жердях и обороты под жердями</div>
<div class="t r" id="t9" style="left:6.00px;top:46.85px;font-size:6.05px;">25.</div>
<div class="t r" id="t10" style="left:142.20px;top:46.85px;font-size:6.05px;">26.</div>
<div class="t r" id="t11" style="left:278.90px;top:46.85px;font-size:6.05px;">27.</div>
<div class="t r" id="t12" style="left:415.40px;top:46.85px;font-size:6.05px;">28.</div>
<div class="t r" id="t13" style="left:552.60px;top:45.75px;font-size:6.05px;">29.</div>
<div class="t r" id="t14" style="left:689.30px;top:46.55px;font-size:6.05px;">30.</div>
<div class="t r" id="t15" style="left:6.00px;top:174.75px;font-size:6.05px;">31.</div>
<div class="t r" id="t16" style="left:142.20px;top:174.75px;font-size:6.05px;">32.</div>
<div class="t r" id="t17" style="left:278.90px;top:174.75px;font-size:6.05px;">33.</div>
<div class="t r" id="t18" style="left:415.40px;top:174.75px;font-size:6.05px;">34.</div>
<div class="t r" id="t19" style="left:552.60px;top:174.75px;font-size:6.05px;">35.</div>
<div class="t r" id="t20" style="left:689.30px;top:174.75px;font-size:6.05px;">36.</div>
<div class="t r" id="t21" style="left:6.00px;top:302.05px;font-size:6.05px;">37.</div>
<div class="t r" id="t22" style="left:142.20px;top:301.85px;font-size:6.05px;">38.</div>
<div class="t r" id="t23" style="left:278.90px;top:301.85px;font-size:6.05px;">39.</div>
<div class="t r" id="t24" style="left:415.40px;top:303.55px;font-size:6.05px;">40.</div>
<div class="t r" id="t25" style="left:552.60px;top:302.05px;font-size:6.05px;">41.</div>
<div class="t r" id="t26" style="left:689.30px;top:301.85px;font-size:6.05px;">42.</div>
<div class="t r" id="t27" style="left:6.00px;top:432.95px;font-size:6.05px;">43.</div>
<div class="t r" id="t28" style="left:142.20px;top:432.95px;font-size:6.05px;">44.</div>
<div class="t r" id="t29" style="left:278.90px;top:432.95px;font-size:6.05px;">45.</div>
<div class="t r" id="t30" style="left:415.40px;top:431.45px;font-size:6.05px;">46.</div>
<div class="t r" id="t31" style="left:552.60px;top:432.95px;font-size:6.05px;">47.</div>
<div class="t r" id="t32" style="left:689.30px;top:431.45px;font-size:6.05px;">48.</div>
<div class="t r" id="t33" style="left:562.40px;top:45.75px;font-size:6.05px;letter-spacing:-0.033px;">Riesenumschwung rw. m. Diamidov i. d. Hdst.</div>
<div class="t r" id="t34" style="left:562.10px;top:52.75px;font-size:6.05px;letter-spacing:-0.071px;">auch a. 1 Holm.</div>
<div class="t i" id="t35" style="left:563.60px;top:59.65px;font-size:6.05px;letter-spacing:-0.035px;">Giant swg. bwd. with Diamidov to hdst., also to</div>
<div class="t i" id="t36" style="left:563.10px;top:67.75px;font-size:6.05px;letter-spacing:-0.002px;">one rail.</div>
<div class="t r" id="t37" style="left:563.20px;top:75.15px;font-size:6.05px;letter-spacing:0.056px;">Оборот наз. с Диамидов в ст. на р., также в</div>
<div class="t r" id="t38" style="left:563.10px;top:81.45px;font-size:6.05px;letter-spacing:-0.091px;">одну жердь.</div>
<div class="t r" id="t39" style="left:699.00px;top:46.55px;font-size:6.05px;letter-spacing:-0.021px;">Riesenumschwung rw. m. Diamidov m. ¼ o. ½</div>
<div class="t r" id="t40" style="left:699.00px;top:52.75px;font-size:6.05px;letter-spacing:-0.037px;">Dr. i. d. Hdst.</div>
<div class="t i" id="t41" style="left:699.00px;top:60.55px;font-size:6.05px;letter-spacing:-0.018px;">Giant swg. Diamidov with ¼ or ½ t. to hdst.</div>
<div class="t r" id="t42" style="left:699.00px;top:68.55px;font-size:6.05px;letter-spacing:-0.218px;">Оборот наз. с Диамидов с ¼ или ½ п. в ст. на р.</div>
<div class="t r" id="t43" style="left:150.70px;top:301.85px;font-size:6.05px;letter-spacing:-0.037px;">Abschwingen m. Salto gestr. i. d. Hang.</div>
<div class="t i" id="t44" style="left:150.70px;top:309.45px;font-size:6.05px;letter-spacing:-0.019px;">Swing down with salto bwd. str. to hang.</div>
<div class="t r" id="t45" style="left:150.70px;top:316.95px;font-size:6.05px;letter-spacing:-0.006px;">Махом вп. сальто наз. в вис.</div>
<div class="t r" id="t46" style="left:287.30px;top:301.85px;font-size:6.05px;letter-spacing:0.000px;">Riesenumschwung rw. m. ½ Dr. i. d. Oberarm-</div>
<div class="t r" id="t47" style="left:287.30px;top:309.45px;font-size:6.05px;letter-spacing:-0.248px;">hang.</div>
<div class="t i" id="t48" style="left:288.10px;top:317.05px;font-size:6.05px;letter-spacing:-0.030px;">Giant swing bwd. with ½ t. to up. arm hang.</div>
<div class="t r" id="t49" style="left:288.10px;top:324.25px;font-size:6.05px;letter-spacing:-0.017px;">Оборот наз. с ½ п. в упор на р.</div>
<div class="t b" id="t50" style="left:327.60px;top:330.15px;font-size:6.05px;letter-spacing:-0.009px;">(Gushiken)</div>
<div class="t r" id="t51" style="left:424.10px;top:303.55px;font-size:6.05px;letter-spacing:-0.014px;">Riesenumschwung rw. m. ½ Dr. i. d. Stütz.</div>
<div class="t i" id="t52" style="left:424.10px;top:309.45px;font-size:6.05px;letter-spacing:-0.026px;">Giant swing bwd. with ½ t. to support.</div>
<div class="t r" id="t53" style="left:424.10px;top:317.05px;font-size:6.05px;letter-spacing:0.008px;">Оборот наз. с ½ п. в упор.</div>
<div class="t b" id="t54" style="left:460.90px;top:330.65px;font-size:6.05px;letter-spacing:0.009px;">(Marinitch)</div>
<div class="t r" id="t55" style="left:699.10px;top:301.85px;font-size:6.05px;letter-spacing:-0.140px;">Riesenumschwung rw. m. Diamidov i. d. Hdst. a.</div>
<div class="t r" id="t56" style="left:699.10px;top:308.65px;font-size:6.05px;letter-spacing:-0.025px;">1 Holm <u>(verbunden mit einem Healy-Element)</u>.</div>
<div class="t i" id="t57" style="left:699.10px;top:316.25px;font-size:6.05px;letter-spacing:-0.044px;">Giant swg. bwd. with Diamidov to hdst. one rail</div>
<div class="t i" id="t58" style="left:699.10px;top:323.45px;font-size:6.05px;letter-spacing:-0.035px;"><u>(connected to Healy type element)</u>.</div>
<div class="t r" id="t59" style="left:699.10px;top:330.15px;font-size:6.05px;letter-spacing:-0.109px;">Оборот наз. с Диамидов в стойку на р. в одну</div>
<div class="t r" id="t60" style="left:699.10px;top:336.95px;font-size:6.05px;letter-spacing:-0.065px;">жердь <u>(в связке с Хили элем.)</u></div>
<div class="t r" id="t61" style="left:424.10px;top:431.45px;font-size:6.05px;letter-spacing:-0.087px;">Riesenfelge rw. mit Makuts zum Oberarmhang.</div>
<div class="t i" id="t62" style="left:424.10px;top:438.15px;font-size:6.05px;letter-spacing:-0.034px;">Giant swing bwd. with Makuts to upper hang.</div>
<div class="t r" id="t63" style="left:424.10px;top:445.85px;font-size:6.05px;letter-spacing:-0.026px;">Оборот назад с Макуц в упор на руках.</div>
<div class="t b" id="t64" style="left:469.80px;top:462.75px;font-size:6.05px;letter-spacing:-0.004px;">(Dauser)</div>
<div class="t r" id="t65" style="left:699.50px;top:431.45px;font-size:6.05px;letter-spacing:0.013px;">Riesenfelge rw. mit Makuts.</div>
<div class="t i" id="t66" style="left:699.50px;top:438.15px;font-size:6.05px;letter-spacing:-0.008px;">Giant swing bwd. with Makuts.</div>
<div class="t r" id="t67" style="left:699.50px;top:445.65px;font-size:6.05px;letter-spacing:-0.024px;">Оборот назад с Макуц.</div>
<div class="t b" id="t68" style="left:743.60px;top:462.55px;font-size:6.05px;letter-spacing:-0.020px;">(Baumann)</div>
<div class="t f" id="t69" style="left:23.60px;top:565.88px;font-size:6.00px;letter-spacing:0.019px;">Verboten für Junioren / <i>Prohibited for junior</i> / Запрещено для юниоров</div>
<div class="t c" id="t70" style="left:390.90px;top:564.88px;font-size:6.20px;letter-spacing:0.008px;">Code MAG 2022</div>
<div class="t p" id="t71" style="left:805.00px;top:563.63px;font-size:6.10px;letter-spacing:-0.124px;">129</div>
</body>
</html>
